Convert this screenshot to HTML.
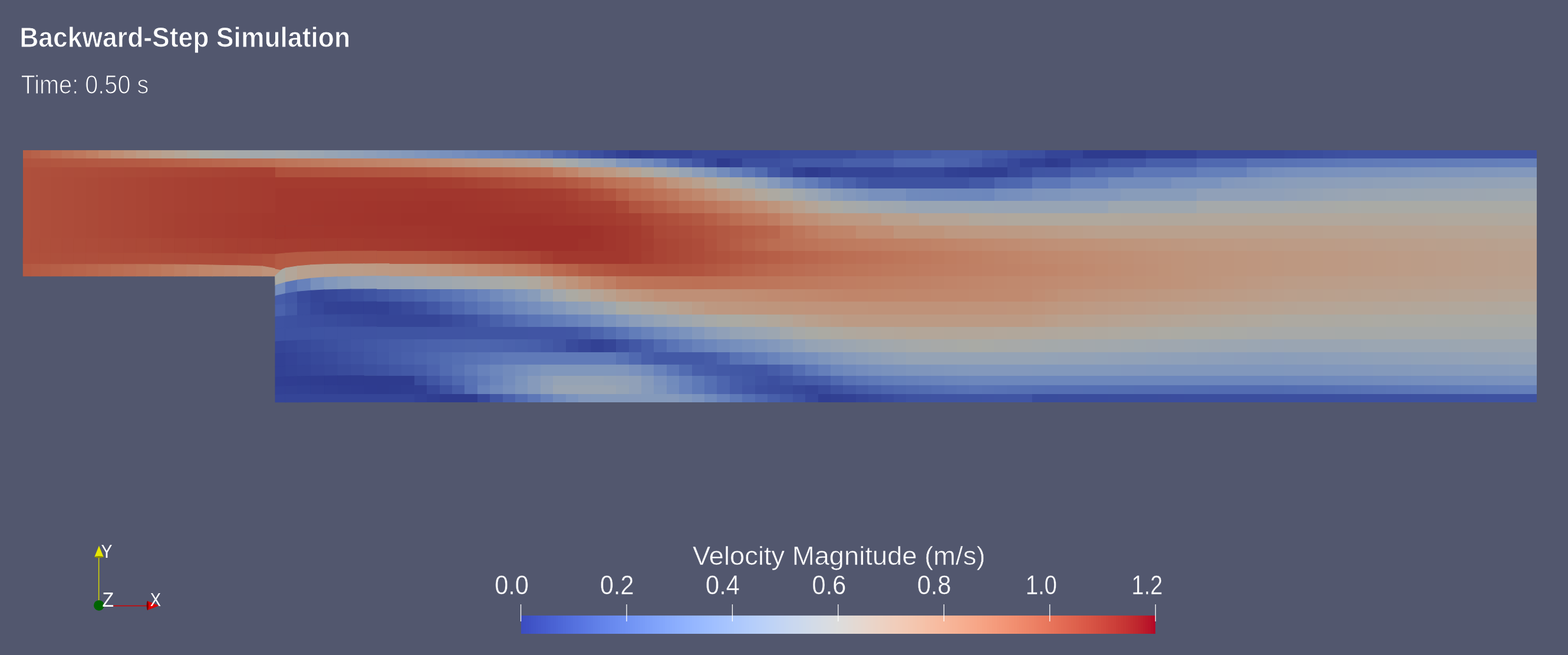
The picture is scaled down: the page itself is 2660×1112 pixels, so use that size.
<!DOCTYPE html>
<html><head><meta charset="utf-8"><title>Backward-Step Simulation</title>
<style>html,body{margin:0;padding:0;background:#52576e;width:2660px;height:1112px;overflow:hidden}
svg{position:absolute;left:0;top:0}</style></head>
<body>
<svg width="2660" height="1112" viewBox="0 0 2660 1112">
<g shape-rendering="crispEdges">
<rect x="39" y="255" width="14" height="14" fill="#b55e46"/><rect x="53" y="255" width="15" height="14" fill="#b7624a"/><rect x="68" y="255" width="18" height="14" fill="#b9674e"/><rect x="86" y="255" width="19" height="14" fill="#bb6d53"/><rect x="105" y="255" width="20" height="14" fill="#bc7358"/><rect x="125" y="255" width="21" height="14" fill="#be785d"/><rect x="146" y="255" width="21" height="14" fill="#bf7f63"/><rect x="167" y="255" width="21" height="14" fill="#c0876b"/><rect x="188" y="255" width="22" height="14" fill="#bf8e74"/><rect x="210" y="255" width="21" height="14" fill="#be947c"/><rect x="231" y="255" width="22" height="14" fill="#bc9a84"/><rect x="253" y="255" width="21" height="14" fill="#ba9f8b"/><rect x="274" y="255" width="22" height="14" fill="#b7a291"/><rect x="296" y="255" width="21" height="14" fill="#b4a597"/><rect x="317" y="255" width="21" height="14" fill="#b0a89d"/><rect x="338" y="255" width="22" height="14" fill="#abaaa3"/><rect x="360" y="255" width="21" height="14" fill="#a9aaa6"/><rect x="381" y="255" width="22" height="14" fill="#a7a9a8"/><rect x="403" y="255" width="21" height="14" fill="#a5a9aa"/><rect x="424" y="255" width="21" height="14" fill="#a2a8ac"/><rect x="445" y="255" width="22" height="14" fill="#a1a8ae"/>
<rect x="39" y="269" width="14" height="15" fill="#b1543f"/><rect x="53" y="269" width="33" height="15" fill="#b15540"/><rect x="86" y="269" width="19" height="15" fill="#b25640"/><rect x="105" y="269" width="41" height="15" fill="#b25741"/><rect x="146" y="269" width="21" height="15" fill="#b35842"/><rect x="167" y="269" width="21" height="15" fill="#b35943"/><rect x="188" y="269" width="22" height="15" fill="#b35a43"/><rect x="210" y="269" width="21" height="15" fill="#b45a44"/><rect x="231" y="269" width="22" height="15" fill="#b45b44"/><rect x="253" y="269" width="21" height="15" fill="#b55d45"/><rect x="274" y="269" width="22" height="15" fill="#b65f47"/><rect x="296" y="269" width="21" height="15" fill="#b66149"/><rect x="317" y="269" width="21" height="15" fill="#b7634a"/><rect x="338" y="269" width="22" height="15" fill="#b8654c"/><rect x="360" y="269" width="21" height="15" fill="#b9674e"/><rect x="381" y="269" width="22" height="15" fill="#b9694f"/><rect x="403" y="269" width="21" height="15" fill="#ba6b51"/><rect x="424" y="269" width="21" height="15" fill="#bb6d53"/><rect x="445" y="269" width="22" height="15" fill="#bb6f54"/>
<rect x="39" y="284" width="14" height="17" fill="#af503c"/><rect x="53" y="284" width="33" height="17" fill="#ae4f3c"/><rect x="86" y="284" width="19" height="17" fill="#ae4e3b"/><rect x="105" y="284" width="20" height="17" fill="#ad4d3b"/><rect x="125" y="284" width="21" height="17" fill="#ad4d3a"/><rect x="146" y="284" width="21" height="17" fill="#ad4c3a"/><rect x="167" y="284" width="21" height="17" fill="#ac4b39"/><rect x="188" y="284" width="22" height="17" fill="#ac4a39"/><rect x="210" y="284" width="21" height="17" fill="#ab4a38"/><rect x="231" y="284" width="22" height="17" fill="#ab4938"/><rect x="253" y="284" width="21" height="17" fill="#ab4837"/><rect x="274" y="284" width="22" height="17" fill="#aa4737"/><rect x="296" y="284" width="21" height="17" fill="#aa4636"/><rect x="317" y="284" width="21" height="17" fill="#a94636"/><rect x="338" y="284" width="22" height="17" fill="#a94535"/><rect x="360" y="284" width="21" height="17" fill="#a84435"/><rect x="381" y="284" width="22" height="17" fill="#a84334"/><rect x="403" y="284" width="21" height="17" fill="#a84234"/><rect x="424" y="284" width="43" height="17" fill="#a74133"/>
<rect x="39" y="301" width="14" height="19" fill="#af503c"/><rect x="53" y="301" width="15" height="19" fill="#ae4f3c"/><rect x="68" y="301" width="18" height="19" fill="#ae4e3b"/><rect x="86" y="301" width="19" height="19" fill="#ad4d3a"/><rect x="105" y="301" width="20" height="19" fill="#ad4c3a"/><rect x="125" y="301" width="21" height="19" fill="#ac4b39"/><rect x="146" y="301" width="21" height="19" fill="#ab4a38"/><rect x="167" y="301" width="21" height="19" fill="#ab4837"/><rect x="188" y="301" width="22" height="19" fill="#aa4737"/><rect x="210" y="301" width="21" height="19" fill="#aa4636"/><rect x="231" y="301" width="22" height="19" fill="#a94535"/><rect x="253" y="301" width="21" height="19" fill="#a84334"/><rect x="274" y="301" width="22" height="19" fill="#a84234"/><rect x="296" y="301" width="21" height="19" fill="#a74133"/><rect x="317" y="301" width="21" height="19" fill="#a64032"/><rect x="338" y="301" width="22" height="19" fill="#a63f32"/><rect x="360" y="301" width="21" height="19" fill="#a63e31"/><rect x="381" y="301" width="22" height="19" fill="#a53e31"/><rect x="403" y="301" width="21" height="19" fill="#a53d30"/><rect x="424" y="301" width="21" height="19" fill="#a43c30"/><rect x="445" y="301" width="22" height="19" fill="#a43b30"/>
<rect x="39" y="320" width="14" height="21" fill="#af503c"/><rect x="53" y="320" width="15" height="21" fill="#ae4f3c"/><rect x="68" y="320" width="18" height="21" fill="#ae4e3b"/><rect x="86" y="320" width="19" height="21" fill="#ad4d3a"/><rect x="105" y="320" width="20" height="21" fill="#ad4c3a"/><rect x="125" y="320" width="21" height="21" fill="#ac4b39"/><rect x="146" y="320" width="21" height="21" fill="#ab4a38"/><rect x="167" y="320" width="21" height="21" fill="#ab4837"/><rect x="188" y="320" width="22" height="21" fill="#aa4737"/><rect x="210" y="320" width="21" height="21" fill="#aa4636"/><rect x="231" y="320" width="22" height="21" fill="#a94535"/><rect x="253" y="320" width="21" height="21" fill="#a84334"/><rect x="274" y="320" width="22" height="21" fill="#a84234"/><rect x="296" y="320" width="21" height="21" fill="#a74133"/><rect x="317" y="320" width="21" height="21" fill="#a64032"/><rect x="338" y="320" width="22" height="21" fill="#a63f32"/><rect x="360" y="320" width="21" height="21" fill="#a63e31"/><rect x="381" y="320" width="22" height="21" fill="#a53e31"/><rect x="403" y="320" width="21" height="21" fill="#a53d30"/><rect x="424" y="320" width="21" height="21" fill="#a43c30"/><rect x="445" y="320" width="22" height="21" fill="#a43b30"/>
<rect x="39" y="341" width="14" height="21" fill="#af503c"/><rect x="53" y="341" width="15" height="21" fill="#ae4f3c"/><rect x="68" y="341" width="18" height="21" fill="#ae4e3b"/><rect x="86" y="341" width="19" height="21" fill="#ad4d3a"/><rect x="105" y="341" width="20" height="21" fill="#ad4c3a"/><rect x="125" y="341" width="21" height="21" fill="#ac4b39"/><rect x="146" y="341" width="21" height="21" fill="#ab4a38"/><rect x="167" y="341" width="21" height="21" fill="#ab4837"/><rect x="188" y="341" width="22" height="21" fill="#aa4737"/><rect x="210" y="341" width="21" height="21" fill="#aa4636"/><rect x="231" y="341" width="22" height="21" fill="#a94535"/><rect x="253" y="341" width="21" height="21" fill="#a84334"/><rect x="274" y="341" width="22" height="21" fill="#a84234"/><rect x="296" y="341" width="21" height="21" fill="#a74133"/><rect x="317" y="341" width="21" height="21" fill="#a64032"/><rect x="338" y="341" width="22" height="21" fill="#a63f32"/><rect x="360" y="341" width="21" height="21" fill="#a63e31"/><rect x="381" y="341" width="22" height="21" fill="#a53e31"/><rect x="403" y="341" width="21" height="21" fill="#a53d30"/><rect x="424" y="341" width="21" height="21" fill="#a43c30"/><rect x="445" y="341" width="22" height="21" fill="#a43b30"/>
<rect x="39" y="362" width="14" height="21" fill="#af503c"/><rect x="53" y="362" width="15" height="21" fill="#ae4f3c"/><rect x="68" y="362" width="18" height="21" fill="#ae4e3b"/><rect x="86" y="362" width="19" height="21" fill="#ad4d3a"/><rect x="105" y="362" width="20" height="21" fill="#ad4c3a"/><rect x="125" y="362" width="21" height="21" fill="#ac4b39"/><rect x="146" y="362" width="21" height="21" fill="#ab4a38"/><rect x="167" y="362" width="21" height="21" fill="#ab4837"/><rect x="188" y="362" width="22" height="21" fill="#aa4737"/><rect x="210" y="362" width="21" height="21" fill="#aa4636"/><rect x="231" y="362" width="22" height="21" fill="#a94535"/><rect x="253" y="362" width="21" height="21" fill="#a84334"/><rect x="274" y="362" width="22" height="21" fill="#a74233"/><rect x="296" y="362" width="21" height="21" fill="#a64032"/><rect x="317" y="362" width="21" height="21" fill="#a63f32"/><rect x="338" y="362" width="22" height="21" fill="#a53e31"/><rect x="360" y="362" width="21" height="21" fill="#a53d31"/><rect x="381" y="362" width="22" height="21" fill="#a43c30"/><rect x="403" y="362" width="21" height="21" fill="#a43b2f"/><rect x="424" y="362" width="21" height="21" fill="#a33a2f"/><rect x="445" y="362" width="22" height="21" fill="#a2392e"/>
<rect x="39" y="383" width="14" height="22" fill="#af503c"/><rect x="53" y="383" width="15" height="22" fill="#ae4f3c"/><rect x="68" y="383" width="18" height="22" fill="#ae4e3b"/><rect x="86" y="383" width="19" height="22" fill="#ad4d3a"/><rect x="105" y="383" width="20" height="22" fill="#ad4c3a"/><rect x="125" y="383" width="21" height="22" fill="#ac4b39"/><rect x="146" y="383" width="21" height="22" fill="#ab4a38"/><rect x="167" y="383" width="21" height="22" fill="#ab4837"/><rect x="188" y="383" width="22" height="22" fill="#aa4737"/><rect x="210" y="383" width="21" height="22" fill="#aa4636"/><rect x="231" y="383" width="22" height="22" fill="#a94535"/><rect x="253" y="383" width="21" height="22" fill="#a84334"/><rect x="274" y="383" width="22" height="22" fill="#a74233"/><rect x="296" y="383" width="21" height="22" fill="#a64032"/><rect x="317" y="383" width="21" height="22" fill="#a63f32"/><rect x="338" y="383" width="22" height="22" fill="#a53e31"/><rect x="360" y="383" width="21" height="22" fill="#a53d31"/><rect x="381" y="383" width="22" height="22" fill="#a43c30"/><rect x="403" y="383" width="21" height="22" fill="#a43b2f"/><rect x="424" y="383" width="21" height="22" fill="#a33a2f"/><rect x="445" y="383" width="22" height="22" fill="#a2392e"/>
<polygon points="39.4,404.6 52.7,404.6 52.7,429.7 39.4,429.7" fill="#af503c" stroke="#af503c" stroke-width="1.2" shape-rendering="auto"/>
<polygon points="52.7,404.6 67.9,404.6 67.9,429.7 52.7,429.7" fill="#ae4f3c" stroke="#ae4f3c" stroke-width="1.2" shape-rendering="auto"/>
<polygon points="67.9,404.6 85.9,404.6 85.9,429.7 67.9,429.7" fill="#ae4f3b" stroke="#ae4f3b" stroke-width="1.2" shape-rendering="auto"/>
<polygon points="85.9,404.6 104.9,404.6 104.9,429.8 85.9,429.7" fill="#ae4e3b" stroke="#ae4e3b" stroke-width="1.2" shape-rendering="auto"/>
<polygon points="104.9,404.6 124.7,404.6 124.7,429.8 104.9,429.8" fill="#ad4d3b" stroke="#ad4d3b" stroke-width="1.2" shape-rendering="auto"/>
<polygon points="124.7,404.6 145.8,404.6 145.8,429.8 124.7,429.8" fill="#ad4d3a" stroke="#ad4d3a" stroke-width="1.2" shape-rendering="auto"/>
<polygon points="145.8,404.6 167.0,404.6 167.0,429.8 145.8,429.8" fill="#ad4c3a" stroke="#ad4c3a" stroke-width="1.2" shape-rendering="auto"/>
<polygon points="167.0,404.6 188.4,404.6 188.4,429.8 167.0,429.8" fill="#ac4b39" stroke="#ac4b39" stroke-width="1.2" shape-rendering="auto"/>
<polygon points="188.4,404.6 210.2,404.6 210.2,429.8 188.4,429.8" fill="#ac4a39" stroke="#ac4a39" stroke-width="1.2" shape-rendering="auto"/>
<polygon points="210.2,404.6 230.9,404.6 230.9,429.8 210.2,429.8" fill="#ab4938" stroke="#ab4938" stroke-width="1.2" shape-rendering="auto"/>
<polygon points="230.9,404.6 253.0,404.6 253.0,429.9 230.9,429.8" fill="#ab4937" stroke="#ab4937" stroke-width="1.2" shape-rendering="auto"/>
<polygon points="253.0,404.6 274.0,404.6 274.0,429.9 253.0,429.9" fill="#aa4837" stroke="#aa4837" stroke-width="1.2" shape-rendering="auto"/>
<polygon points="274.0,404.6 296.1,404.6 296.1,429.9 274.0,429.9" fill="#aa4636" stroke="#aa4636" stroke-width="1.2" shape-rendering="auto"/>
<polygon points="296.1,404.6 317.0,404.6 317.0,430.1 296.1,429.9" fill="#a94535" stroke="#a94535" stroke-width="1.2" shape-rendering="auto"/>
<polygon points="317.0,404.6 338.0,404.6 338.0,430.2 317.0,430.1" fill="#a94435" stroke="#a94435" stroke-width="1.2" shape-rendering="auto"/>
<polygon points="338.0,404.6 360.1,404.6 360.1,430.5 338.0,430.2" fill="#a84334" stroke="#a84334" stroke-width="1.2" shape-rendering="auto"/>
<polygon points="360.1,404.6 381.1,404.6 381.1,430.6 360.1,430.5" fill="#a74233" stroke="#a74233" stroke-width="1.2" shape-rendering="auto"/>
<polygon points="381.1,404.6 403.2,404.6 403.2,430.8 381.1,430.6" fill="#a74032" stroke="#a74032" stroke-width="1.2" shape-rendering="auto"/>
<polygon points="403.2,404.6 424.2,404.6 424.2,431.0 403.2,430.8" fill="#a63f32" stroke="#a63f32" stroke-width="1.2" shape-rendering="auto"/>
<polygon points="424.2,404.6 445.1,404.6 445.1,431.3 424.2,431.0" fill="#a63f32" stroke="#a63f32" stroke-width="1.2" shape-rendering="auto"/>
<polygon points="445.1,404.6 467.1,404.6 467.1,431.5 445.1,431.3" fill="#a53e31" stroke="#a53e31" stroke-width="1.2" shape-rendering="auto"/>
<polygon points="39.4,429.7 52.7,429.7 52.7,448.7 39.4,448.7" fill="#af503c" stroke="#af503c" stroke-width="1.2" shape-rendering="auto"/>
<polygon points="52.7,429.7 67.9,429.7 67.9,448.7 52.7,448.7" fill="#af503c" stroke="#af503c" stroke-width="1.2" shape-rendering="auto"/>
<polygon points="67.9,429.7 85.9,429.7 85.9,448.8 67.9,448.7" fill="#af503c" stroke="#af503c" stroke-width="1.2" shape-rendering="auto"/>
<polygon points="85.9,429.7 104.9,429.8 104.9,448.8 85.9,448.8" fill="#ae503c" stroke="#ae503c" stroke-width="1.2" shape-rendering="auto"/>
<polygon points="104.9,429.8 124.7,429.8 124.7,448.8 104.9,448.8" fill="#ae4f3c" stroke="#ae4f3c" stroke-width="1.2" shape-rendering="auto"/>
<polygon points="124.7,429.8 145.8,429.8 145.8,448.8 124.7,448.8" fill="#ae4f3c" stroke="#ae4f3c" stroke-width="1.2" shape-rendering="auto"/>
<polygon points="145.8,429.8 167.0,429.8 167.0,448.8 145.8,448.8" fill="#ae4f3c" stroke="#ae4f3c" stroke-width="1.2" shape-rendering="auto"/>
<polygon points="167.0,429.8 188.4,429.8 188.4,448.9 167.0,448.8" fill="#ae4f3b" stroke="#ae4f3b" stroke-width="1.2" shape-rendering="auto"/>
<polygon points="188.4,429.8 210.2,429.8 210.2,448.9 188.4,448.9" fill="#ae4e3b" stroke="#ae4e3b" stroke-width="1.2" shape-rendering="auto"/>
<polygon points="210.2,429.8 230.9,429.8 230.9,448.9 210.2,448.9" fill="#ae4e3b" stroke="#ae4e3b" stroke-width="1.2" shape-rendering="auto"/>
<polygon points="230.9,429.8 253.0,429.9 253.0,448.9 230.9,448.9" fill="#ae4e3b" stroke="#ae4e3b" stroke-width="1.2" shape-rendering="auto"/>
<polygon points="253.0,429.9 274.0,429.9 274.0,449.0 253.0,448.9" fill="#ae4e3b" stroke="#ae4e3b" stroke-width="1.2" shape-rendering="auto"/>
<polygon points="274.0,429.9 296.1,429.9 296.1,449.0 274.0,449.0" fill="#ad4e3b" stroke="#ad4e3b" stroke-width="1.2" shape-rendering="auto"/>
<polygon points="296.1,429.9 317.0,430.1 317.0,449.3 296.1,449.0" fill="#ad4d3b" stroke="#ad4d3b" stroke-width="1.2" shape-rendering="auto"/>
<polygon points="317.0,430.1 338.0,430.2 338.0,449.7 317.0,449.3" fill="#ad4d3a" stroke="#ad4d3a" stroke-width="1.2" shape-rendering="auto"/>
<polygon points="338.0,430.2 360.1,430.5 360.1,450.1 338.0,449.7" fill="#ad4d3a" stroke="#ad4d3a" stroke-width="1.2" shape-rendering="auto"/>
<polygon points="360.1,430.5 381.1,430.6 381.1,450.5 360.1,450.1" fill="#ad4d3a" stroke="#ad4d3a" stroke-width="1.2" shape-rendering="auto"/>
<polygon points="381.1,430.6 403.2,430.8 403.2,450.9 381.1,450.5" fill="#ad4c3a" stroke="#ad4c3a" stroke-width="1.2" shape-rendering="auto"/>
<polygon points="403.2,430.8 424.2,431.0 424.2,451.3 403.2,450.9" fill="#ae4e3b" stroke="#ae4e3b" stroke-width="1.2" shape-rendering="auto"/>
<polygon points="424.2,431.0 445.1,431.3 445.1,452.0 424.2,451.3" fill="#af503d" stroke="#af503d" stroke-width="1.2" shape-rendering="auto"/>
<polygon points="445.1,431.3 467.1,431.5 467.1,456.0 445.1,452.0" fill="#b0533e" stroke="#b0533e" stroke-width="1.2" shape-rendering="auto"/>
<polygon points="39.4,448.7 52.7,448.7 52.7,468.6 39.4,468.6" fill="#b35942" stroke="#b35942" stroke-width="1.2" shape-rendering="auto"/>
<polygon points="52.7,448.7 67.9,448.7 67.9,468.6 52.7,468.6" fill="#b45b44" stroke="#b45b44" stroke-width="1.2" shape-rendering="auto"/>
<polygon points="67.9,448.7 85.9,448.8 85.9,468.6 67.9,468.6" fill="#b55d45" stroke="#b55d45" stroke-width="1.2" shape-rendering="auto"/>
<polygon points="85.9,448.8 104.9,448.8 104.9,468.6 85.9,468.6" fill="#b65f47" stroke="#b65f47" stroke-width="1.2" shape-rendering="auto"/>
<polygon points="104.9,448.8 124.7,448.8 124.7,468.6 104.9,468.6" fill="#b76249" stroke="#b76249" stroke-width="1.2" shape-rendering="auto"/>
<polygon points="124.7,448.8 145.8,448.8 145.8,468.6 124.7,468.6" fill="#b8644b" stroke="#b8644b" stroke-width="1.2" shape-rendering="auto"/>
<polygon points="145.8,448.8 167.0,448.8 167.0,468.6 145.8,468.6" fill="#b9674d" stroke="#b9674d" stroke-width="1.2" shape-rendering="auto"/>
<polygon points="167.0,448.8 188.4,448.9 188.4,468.6 167.0,468.6" fill="#ba6a50" stroke="#ba6a50" stroke-width="1.2" shape-rendering="auto"/>
<polygon points="188.4,448.9 210.2,448.9 210.2,468.6 188.4,468.6" fill="#bb6d52" stroke="#bb6d52" stroke-width="1.2" shape-rendering="auto"/>
<polygon points="210.2,448.9 230.9,448.9 230.9,468.6 210.2,468.6" fill="#bc6f55" stroke="#bc6f55" stroke-width="1.2" shape-rendering="auto"/>
<polygon points="230.9,448.9 253.0,448.9 253.0,468.6 230.9,468.6" fill="#bc7257" stroke="#bc7257" stroke-width="1.2" shape-rendering="auto"/>
<polygon points="253.0,448.9 274.0,449.0 274.0,468.6 253.0,468.6" fill="#bd765a" stroke="#bd765a" stroke-width="1.2" shape-rendering="auto"/>
<polygon points="274.0,449.0 296.1,449.0 296.1,468.6 274.0,468.6" fill="#be7a5e" stroke="#be7a5e" stroke-width="1.2" shape-rendering="auto"/>
<polygon points="296.1,449.0 317.0,449.3 317.0,468.6 296.1,468.6" fill="#bf7e62" stroke="#bf7e62" stroke-width="1.2" shape-rendering="auto"/>
<polygon points="317.0,449.3 338.0,449.7 338.0,468.6 317.0,468.6" fill="#bf8166" stroke="#bf8166" stroke-width="1.2" shape-rendering="auto"/>
<polygon points="338.0,449.7 360.1,450.1 360.1,468.6 338.0,468.6" fill="#c08569" stroke="#c08569" stroke-width="1.2" shape-rendering="auto"/>
<polygon points="360.1,450.1 381.1,450.5 381.1,468.6 360.1,468.6" fill="#c0876c" stroke="#c0876c" stroke-width="1.2" shape-rendering="auto"/>
<polygon points="381.1,450.5 403.2,450.9 403.2,468.6 381.1,468.6" fill="#c0896f" stroke="#c0896f" stroke-width="1.2" shape-rendering="auto"/>
<polygon points="403.2,450.9 424.2,451.3 424.2,468.6 403.2,468.6" fill="#c08c71" stroke="#c08c71" stroke-width="1.2" shape-rendering="auto"/>
<polygon points="424.2,451.3 445.1,452.0 445.1,468.6 424.2,468.6" fill="#bf8e74" stroke="#bf8e74" stroke-width="1.2" shape-rendering="auto"/>
<polygon points="445.1,452.0 478.0,457.9 466.8,468.6 445.1,468.6" fill="#bf937a" stroke="#bf937a" stroke-width="1.2" shape-rendering="auto"/>
<rect x="467" y="255" width="17" height="14" fill="#a3a8ac"/><rect x="484" y="255" width="21" height="14" fill="#a1a8ae"/><rect x="505" y="255" width="22" height="14" fill="#9ea7b0"/><rect x="527" y="255" width="23" height="14" fill="#9ba6b2"/><rect x="550" y="255" width="23" height="14" fill="#97a4b4"/><rect x="573" y="255" width="22" height="14" fill="#94a3b6"/><rect x="595" y="255" width="22" height="14" fill="#91a1b7"/><rect x="617" y="255" width="22" height="14" fill="#8e9fb9"/><rect x="639" y="255" width="21" height="14" fill="#8a9dba"/><rect x="660" y="255" width="21" height="14" fill="#879bbb"/><rect x="681" y="255" width="22" height="14" fill="#8499bb"/><rect x="703" y="255" width="21" height="14" fill="#8096bc"/><rect x="724" y="255" width="22" height="14" fill="#7d94bc"/><rect x="746" y="255" width="21" height="14" fill="#7991bd"/><rect x="767" y="255" width="21" height="14" fill="#768ebd"/><rect x="788" y="255" width="22" height="14" fill="#728bbc"/><rect x="810" y="255" width="21" height="14" fill="#6e88bc"/><rect x="831" y="255" width="22" height="14" fill="#6b85bb"/><rect x="853" y="255" width="21" height="14" fill="#6781ba"/><rect x="874" y="255" width="21" height="14" fill="#637eb9"/><rect x="895" y="255" width="22" height="14" fill="#607ab8"/><rect x="917" y="255" width="21" height="14" fill="#5871b4"/><rect x="938" y="255" width="22" height="14" fill="#4d65ae"/><rect x="960" y="255" width="21" height="14" fill="#485faa"/><rect x="981" y="255" width="21" height="14" fill="#4155a4"/><rect x="1002" y="255" width="22" height="14" fill="#3c4f9f"/><rect x="1024" y="255" width="21" height="14" fill="#374899"/><rect x="1045" y="255" width="22" height="14" fill="#324194"/><rect x="1067" y="255" width="21" height="14" fill="#2e3b8e"/><rect x="1088" y="255" width="21" height="14" fill="#303e91"/><rect x="1109" y="255" width="65" height="14" fill="#324194"/><rect x="1174" y="255" width="149" height="14" fill="#374899"/><rect x="1323" y="255" width="129" height="14" fill="#394c9c"/><rect x="1452" y="255" width="64" height="14" fill="#3e52a1"/><rect x="1516" y="255" width="64" height="14" fill="#4359a6"/><rect x="1580" y="255" width="86" height="14" fill="#485faa"/><rect x="1666" y="255" width="43" height="14" fill="#4359a6"/><rect x="1709" y="255" width="21" height="14" fill="#3e52a1"/><rect x="1730" y="255" width="21" height="14" fill="#3d51a0"/><rect x="1751" y="255" width="22" height="14" fill="#3c4f9f"/><rect x="1773" y="255" width="64" height="14" fill="#354597"/><rect x="1837" y="255" width="107" height="14" fill="#2e3b8e"/><rect x="1944" y="255" width="86" height="14" fill="#324194"/><rect x="2030" y="255" width="149" height="14" fill="#374899"/><rect x="2179" y="255" width="22" height="14" fill="#384a9b"/><rect x="2201" y="255" width="21" height="14" fill="#394b9c"/><rect x="2222" y="255" width="22" height="14" fill="#3a4d9d"/><rect x="2244" y="255" width="21" height="14" fill="#3c4f9f"/><rect x="2265" y="255" width="21" height="14" fill="#3d50a0"/><rect x="2286" y="255" width="321" height="14" fill="#3e52a1"/>
<rect x="467" y="269" width="17" height="15" fill="#bd7358"/><rect x="484" y="269" width="21" height="15" fill="#bd755a"/><rect x="505" y="269" width="22" height="15" fill="#be775c"/><rect x="527" y="269" width="23" height="15" fill="#be7a5e"/><rect x="550" y="269" width="23" height="15" fill="#bf7c60"/><rect x="573" y="269" width="22" height="15" fill="#bf7e63"/><rect x="595" y="269" width="22" height="15" fill="#bf8065"/><rect x="617" y="269" width="22" height="15" fill="#bf8267"/><rect x="639" y="269" width="21" height="15" fill="#c08469"/><rect x="660" y="269" width="21" height="15" fill="#c0866b"/><rect x="681" y="269" width="22" height="15" fill="#c0886d"/><rect x="703" y="269" width="21" height="15" fill="#c08a70"/><rect x="724" y="269" width="22" height="15" fill="#c08d73"/><rect x="746" y="269" width="21" height="15" fill="#bf9077"/><rect x="767" y="269" width="21" height="15" fill="#bf937b"/><rect x="788" y="269" width="22" height="15" fill="#be967e"/><rect x="810" y="269" width="21" height="15" fill="#bd9882"/><rect x="831" y="269" width="22" height="15" fill="#bc9b85"/><rect x="853" y="269" width="21" height="15" fill="#bb9d89"/><rect x="874" y="269" width="21" height="15" fill="#b99f8c"/><rect x="895" y="269" width="22" height="15" fill="#b8a190"/><rect x="917" y="269" width="21" height="15" fill="#b3a699"/><rect x="938" y="269" width="22" height="15" fill="#abaaa3"/><rect x="960" y="269" width="21" height="15" fill="#a5a9aa"/><rect x="981" y="269" width="21" height="15" fill="#9ca6b1"/><rect x="1002" y="269" width="22" height="15" fill="#95a3b5"/><rect x="1024" y="269" width="21" height="15" fill="#90a0b8"/><rect x="1045" y="269" width="22" height="15" fill="#8096bc"/><rect x="1067" y="269" width="21" height="15" fill="#7b92bd"/><rect x="1088" y="269" width="21" height="15" fill="#738cbc"/><rect x="1109" y="269" width="22" height="15" fill="#6882bb"/><rect x="1131" y="269" width="21" height="15" fill="#5872b4"/><rect x="1152" y="269" width="22" height="15" fill="#4b62ac"/><rect x="1174" y="269" width="21" height="15" fill="#4155a4"/><rect x="1195" y="269" width="21" height="15" fill="#374899"/><rect x="1216" y="269" width="22" height="15" fill="#2e3b8e"/><rect x="1238" y="269" width="21" height="15" fill="#324194"/><rect x="1259" y="269" width="64" height="15" fill="#3c4f9f"/><rect x="1323" y="269" width="22" height="15" fill="#3e52a1"/><rect x="1345" y="269" width="85" height="15" fill="#4359a6"/><rect x="1430" y="269" width="86" height="15" fill="#485faa"/><rect x="1516" y="269" width="21" height="15" fill="#5068b0"/><rect x="1537" y="269" width="65" height="15" fill="#5069b0"/><rect x="1602" y="269" width="42" height="15" fill="#4b62ac"/><rect x="1644" y="269" width="22" height="15" fill="#465ca8"/><rect x="1666" y="269" width="21" height="15" fill="#3e52a1"/><rect x="1687" y="269" width="22" height="15" fill="#3c4f9f"/><rect x="1709" y="269" width="21" height="15" fill="#37489a"/><rect x="1730" y="269" width="43" height="15" fill="#324194"/><rect x="1773" y="269" width="21" height="15" fill="#2e3b8e"/><rect x="1794" y="269" width="22" height="15" fill="#303e91"/><rect x="1816" y="269" width="21" height="15" fill="#394b9c"/><rect x="1837" y="269" width="43" height="15" fill="#394c9c"/><rect x="1880" y="269" width="21" height="15" fill="#4055a3"/><rect x="1901" y="269" width="43" height="15" fill="#4155a4"/><rect x="1944" y="269" width="86" height="15" fill="#485faa"/><rect x="2030" y="269" width="21" height="15" fill="#5068b0"/><rect x="2051" y="269" width="64" height="15" fill="#5069b0"/><rect x="2115" y="269" width="22" height="15" fill="#5871b4"/><rect x="2137" y="269" width="42" height="15" fill="#5872b4"/><rect x="2179" y="269" width="22" height="15" fill="#5973b5"/><rect x="2201" y="269" width="21" height="15" fill="#5a74b6"/><rect x="2222" y="269" width="22" height="15" fill="#5c76b6"/><rect x="2244" y="269" width="21" height="15" fill="#5d77b7"/><rect x="2265" y="269" width="21" height="15" fill="#5e79b7"/><rect x="2286" y="269" width="43" height="15" fill="#607ab8"/><rect x="2329" y="269" width="43" height="15" fill="#617bb8"/><rect x="2372" y="269" width="21" height="15" fill="#617cb9"/><rect x="2393" y="269" width="43" height="15" fill="#627cb9"/><rect x="2436" y="269" width="22" height="15" fill="#627db9"/><rect x="2458" y="269" width="21" height="15" fill="#637db9"/><rect x="2479" y="269" width="21" height="15" fill="#637eb9"/><rect x="2500" y="269" width="42" height="15" fill="#647eb9"/><rect x="2542" y="269" width="18" height="15" fill="#647fba"/><rect x="2560" y="269" width="35" height="15" fill="#657fba"/><rect x="2595" y="269" width="12" height="15" fill="#6580ba"/>
<rect x="467" y="284" width="17" height="17" fill="#af503c"/><rect x="484" y="284" width="43" height="17" fill="#af513d"/><rect x="527" y="284" width="23" height="17" fill="#b0523e"/><rect x="550" y="284" width="23" height="17" fill="#b0533e"/><rect x="573" y="284" width="22" height="17" fill="#b0543f"/><rect x="595" y="284" width="22" height="17" fill="#b1543f"/><rect x="617" y="284" width="22" height="17" fill="#b15540"/><rect x="639" y="284" width="21" height="17" fill="#b15640"/><rect x="660" y="284" width="21" height="17" fill="#b25641"/><rect x="681" y="284" width="22" height="17" fill="#b25741"/><rect x="703" y="284" width="21" height="17" fill="#b25842"/><rect x="724" y="284" width="22" height="17" fill="#b45b44"/><rect x="746" y="284" width="21" height="17" fill="#b55d46"/><rect x="767" y="284" width="21" height="17" fill="#b66048"/><rect x="788" y="284" width="22" height="17" fill="#b7634a"/><rect x="810" y="284" width="21" height="17" fill="#b8664c"/><rect x="831" y="284" width="22" height="17" fill="#b9684f"/><rect x="853" y="284" width="21" height="17" fill="#ba6b51"/><rect x="874" y="284" width="21" height="17" fill="#bb6e53"/><rect x="895" y="284" width="22" height="17" fill="#bc7055"/><rect x="917" y="284" width="21" height="17" fill="#bd7358"/><rect x="938" y="284" width="22" height="17" fill="#bf7f64"/><rect x="960" y="284" width="21" height="17" fill="#c0856a"/><rect x="981" y="284" width="21" height="17" fill="#bf8f76"/><rect x="1002" y="284" width="22" height="17" fill="#be947c"/><rect x="1024" y="284" width="21" height="17" fill="#bd9881"/><rect x="1045" y="284" width="22" height="17" fill="#ba9e8a"/><rect x="1067" y="284" width="21" height="17" fill="#b6a393"/><rect x="1088" y="284" width="21" height="17" fill="#afa89e"/><rect x="1109" y="284" width="22" height="17" fill="#a7a9a8"/><rect x="1131" y="284" width="21" height="17" fill="#a1a8ae"/><rect x="1152" y="284" width="22" height="17" fill="#97a4b4"/><rect x="1174" y="284" width="21" height="17" fill="#8b9dba"/><rect x="1195" y="284" width="21" height="17" fill="#8097bc"/><rect x="1216" y="284" width="22" height="17" fill="#738cbc"/><rect x="1238" y="284" width="21" height="17" fill="#6882bb"/><rect x="1259" y="284" width="22" height="17" fill="#5d77b7"/><rect x="1281" y="284" width="21" height="17" fill="#526cb1"/><rect x="1302" y="284" width="21" height="17" fill="#4359a6"/><rect x="1323" y="284" width="22" height="17" fill="#3c4f9f"/><rect x="1345" y="284" width="21" height="17" fill="#324194"/><rect x="1366" y="284" width="22" height="17" fill="#2e3b8e"/><rect x="1388" y="284" width="21" height="17" fill="#303e91"/><rect x="1409" y="284" width="107" height="17" fill="#354597"/><rect x="1516" y="284" width="86" height="17" fill="#374899"/><rect x="1602" y="284" width="21" height="17" fill="#324194"/><rect x="1623" y="284" width="21" height="17" fill="#314093"/><rect x="1644" y="284" width="65" height="17" fill="#303e91"/><rect x="1709" y="284" width="21" height="17" fill="#374899"/><rect x="1730" y="284" width="21" height="17" fill="#394b9c"/><rect x="1751" y="284" width="22" height="17" fill="#4055a3"/><rect x="1773" y="284" width="43" height="17" fill="#4155a4"/><rect x="1816" y="284" width="21" height="17" fill="#4a62ac"/><rect x="1837" y="284" width="21" height="17" fill="#4b62ac"/><rect x="1858" y="284" width="22" height="17" fill="#526bb1"/><rect x="1880" y="284" width="43" height="17" fill="#526cb1"/><rect x="1923" y="284" width="107" height="17" fill="#5d77b7"/><rect x="2030" y="284" width="21" height="17" fill="#657fba"/><rect x="2051" y="284" width="64" height="17" fill="#6580ba"/><rect x="2115" y="284" width="22" height="17" fill="#7089bc"/><rect x="2137" y="284" width="21" height="17" fill="#738cbc"/><rect x="2158" y="284" width="21" height="17" fill="#768ebd"/><rect x="2179" y="284" width="22" height="17" fill="#7890bd"/><rect x="2201" y="284" width="43" height="17" fill="#7991bd"/><rect x="2244" y="284" width="21" height="17" fill="#7a92bd"/><rect x="2265" y="284" width="21" height="17" fill="#7b92bd"/><rect x="2286" y="284" width="22" height="17" fill="#7b93bd"/><rect x="2308" y="284" width="43" height="17" fill="#7c93bc"/><rect x="2351" y="284" width="42" height="17" fill="#7d94bc"/><rect x="2393" y="284" width="22" height="17" fill="#7e95bc"/><rect x="2415" y="284" width="21" height="17" fill="#7f95bc"/><rect x="2436" y="284" width="22" height="17" fill="#7f96bc"/><rect x="2458" y="284" width="42" height="17" fill="#8096bc"/><rect x="2500" y="284" width="42" height="17" fill="#8197bc"/><rect x="2542" y="284" width="36" height="17" fill="#8298bc"/><rect x="2578" y="284" width="29" height="17" fill="#8398bc"/>
<rect x="467" y="301" width="257" height="19" fill="#a43b2f"/><rect x="724" y="301" width="22" height="19" fill="#a53d30"/><rect x="746" y="301" width="21" height="19" fill="#a63e31"/><rect x="767" y="301" width="21" height="19" fill="#a64032"/><rect x="788" y="301" width="22" height="19" fill="#a84334"/><rect x="810" y="301" width="21" height="19" fill="#a94636"/><rect x="831" y="301" width="22" height="19" fill="#ab4837"/><rect x="853" y="301" width="21" height="19" fill="#ac4b39"/><rect x="874" y="301" width="21" height="19" fill="#ae4e3b"/><rect x="895" y="301" width="22" height="19" fill="#af503c"/><rect x="917" y="301" width="21" height="19" fill="#b0523e"/><rect x="938" y="301" width="22" height="19" fill="#b1543f"/><rect x="960" y="301" width="21" height="19" fill="#b35a43"/><rect x="981" y="301" width="21" height="19" fill="#b65f47"/><rect x="1002" y="301" width="22" height="19" fill="#b9684e"/><rect x="1024" y="301" width="21" height="19" fill="#bc7055"/><rect x="1045" y="301" width="22" height="19" fill="#bd7559"/><rect x="1067" y="301" width="21" height="19" fill="#be795e"/><rect x="1088" y="301" width="21" height="19" fill="#bf7f64"/><rect x="1109" y="301" width="22" height="19" fill="#c08a70"/><rect x="1131" y="301" width="21" height="19" fill="#be947c"/><rect x="1152" y="301" width="22" height="19" fill="#bc9a84"/><rect x="1174" y="301" width="21" height="19" fill="#b9a08d"/><rect x="1195" y="301" width="21" height="19" fill="#b3a698"/><rect x="1216" y="301" width="22" height="19" fill="#abaaa3"/><rect x="1238" y="301" width="21" height="19" fill="#a7a9a8"/><rect x="1259" y="301" width="22" height="19" fill="#9ea7af"/><rect x="1281" y="301" width="21" height="19" fill="#93a2b7"/><rect x="1302" y="301" width="21" height="19" fill="#869abb"/><rect x="1323" y="301" width="22" height="19" fill="#7890bd"/><rect x="1345" y="301" width="21" height="19" fill="#6b85bb"/><rect x="1366" y="301" width="22" height="19" fill="#637db9"/><rect x="1388" y="301" width="21" height="19" fill="#5872b4"/><rect x="1409" y="301" width="21" height="19" fill="#5069b0"/><rect x="1430" y="301" width="22" height="19" fill="#4b62ac"/><rect x="1452" y="301" width="21" height="19" fill="#4359a6"/><rect x="1473" y="301" width="171" height="19" fill="#3e52a1"/><rect x="1644" y="301" width="43" height="19" fill="#4359a6"/><rect x="1687" y="301" width="22" height="19" fill="#4d65ae"/><rect x="1709" y="301" width="21" height="19" fill="#4e67af"/><rect x="1730" y="301" width="21" height="19" fill="#5069b0"/><rect x="1751" y="301" width="65" height="19" fill="#5d77b7"/><rect x="1816" y="301" width="64" height="19" fill="#6882bb"/><rect x="1880" y="301" width="107" height="19" fill="#738cbc"/><rect x="1987" y="301" width="21" height="19" fill="#7b92bd"/><rect x="2008" y="301" width="64" height="19" fill="#7b93bd"/><rect x="2072" y="301" width="22" height="19" fill="#8398bc"/><rect x="2094" y="301" width="21" height="19" fill="#8599bb"/><rect x="2115" y="301" width="22" height="19" fill="#869abb"/><rect x="2137" y="301" width="21" height="19" fill="#889cbb"/><rect x="2158" y="301" width="21" height="19" fill="#899dba"/><rect x="2179" y="301" width="22" height="19" fill="#8b9dba"/><rect x="2201" y="301" width="21" height="19" fill="#8b9eb9"/><rect x="2222" y="301" width="22" height="19" fill="#8c9eb9"/><rect x="2244" y="301" width="21" height="19" fill="#8d9eb9"/><rect x="2265" y="301" width="21" height="19" fill="#8d9fb9"/><rect x="2286" y="301" width="22" height="19" fill="#8e9fb9"/><rect x="2308" y="301" width="21" height="19" fill="#8e9fb8"/><rect x="2329" y="301" width="43" height="19" fill="#8fa0b8"/><rect x="2372" y="301" width="21" height="19" fill="#90a0b8"/><rect x="2393" y="301" width="22" height="19" fill="#90a1b8"/><rect x="2415" y="301" width="43" height="19" fill="#91a1b7"/><rect x="2458" y="301" width="21" height="19" fill="#92a1b7"/><rect x="2479" y="301" width="21" height="19" fill="#92a2b7"/><rect x="2500" y="301" width="42" height="19" fill="#93a2b6"/><rect x="2542" y="301" width="18" height="19" fill="#94a2b6"/><rect x="2560" y="301" width="18" height="19" fill="#94a3b6"/><rect x="2578" y="301" width="29" height="19" fill="#95a3b5"/>
<rect x="467" y="320" width="106" height="21" fill="#a2382e"/><rect x="573" y="320" width="22" height="21" fill="#a2372e"/><rect x="595" y="320" width="44" height="21" fill="#a2372d"/><rect x="639" y="320" width="64" height="21" fill="#a1372d"/><rect x="703" y="320" width="107" height="21" fill="#a1362d"/><rect x="810" y="320" width="21" height="21" fill="#a1372d"/><rect x="831" y="320" width="22" height="21" fill="#a2382e"/><rect x="853" y="320" width="21" height="21" fill="#a3392e"/><rect x="874" y="320" width="21" height="21" fill="#a33a2f"/><rect x="895" y="320" width="22" height="21" fill="#a43b2f"/><rect x="917" y="320" width="21" height="21" fill="#a43c30"/><rect x="938" y="320" width="22" height="21" fill="#a53e31"/><rect x="960" y="320" width="21" height="21" fill="#a84234"/><rect x="981" y="320" width="21" height="21" fill="#ab4837"/><rect x="1002" y="320" width="22" height="21" fill="#ae4e3b"/><rect x="1024" y="320" width="21" height="21" fill="#b1543f"/><rect x="1045" y="320" width="22" height="21" fill="#b65f47"/><rect x="1067" y="320" width="21" height="21" fill="#ba694f"/><rect x="1088" y="320" width="21" height="21" fill="#bb6d52"/><rect x="1109" y="320" width="22" height="21" fill="#bd7358"/><rect x="1131" y="320" width="21" height="21" fill="#be795e"/><rect x="1152" y="320" width="22" height="21" fill="#bf8267"/><rect x="1174" y="320" width="21" height="21" fill="#c0886d"/><rect x="1195" y="320" width="21" height="21" fill="#bf8f76"/><rect x="1216" y="320" width="22" height="21" fill="#be967e"/><rect x="1238" y="320" width="21" height="21" fill="#bb9c87"/><rect x="1259" y="320" width="22" height="21" fill="#b8a190"/><rect x="1281" y="320" width="21" height="21" fill="#b1a79b"/><rect x="1302" y="320" width="21" height="21" fill="#ada9a1"/><rect x="1323" y="320" width="22" height="21" fill="#a9aaa5"/><rect x="1345" y="320" width="21" height="21" fill="#a1a8ae"/><rect x="1366" y="320" width="22" height="21" fill="#9aa5b3"/><rect x="1388" y="320" width="21" height="21" fill="#93a2b7"/><rect x="1409" y="320" width="21" height="21" fill="#889cba"/><rect x="1430" y="320" width="22" height="21" fill="#8398bc"/><rect x="1452" y="320" width="21" height="21" fill="#7e95bc"/><rect x="1473" y="320" width="64" height="21" fill="#7890bd"/><rect x="1537" y="320" width="22" height="21" fill="#708abc"/><rect x="1559" y="320" width="21" height="21" fill="#7089bc"/><rect x="1580" y="320" width="22" height="21" fill="#6f89bc"/><rect x="1602" y="320" width="21" height="21" fill="#6f88bc"/><rect x="1623" y="320" width="43" height="21" fill="#6e88bc"/><rect x="1666" y="320" width="21" height="21" fill="#6d87bc"/><rect x="1687" y="320" width="22" height="21" fill="#758ebd"/><rect x="1709" y="320" width="21" height="21" fill="#778fbd"/><rect x="1730" y="320" width="21" height="21" fill="#7890bd"/><rect x="1751" y="320" width="22" height="21" fill="#7e94bc"/><rect x="1773" y="320" width="43" height="21" fill="#7e95bc"/><rect x="1816" y="320" width="85" height="21" fill="#8398bc"/><rect x="1901" y="320" width="129" height="21" fill="#889cba"/><rect x="2030" y="320" width="149" height="21" fill="#90a0b8"/><rect x="2179" y="320" width="22" height="21" fill="#92a1b7"/><rect x="2201" y="320" width="21" height="21" fill="#93a2b6"/><rect x="2222" y="320" width="22" height="21" fill="#95a3b5"/><rect x="2244" y="320" width="21" height="21" fill="#97a4b4"/><rect x="2265" y="320" width="21" height="21" fill="#98a4b4"/><rect x="2286" y="320" width="22" height="21" fill="#9aa5b3"/><rect x="2308" y="320" width="43" height="21" fill="#9aa5b2"/><rect x="2351" y="320" width="42" height="21" fill="#9ba6b2"/><rect x="2393" y="320" width="22" height="21" fill="#9ba6b1"/><rect x="2415" y="320" width="64" height="21" fill="#9ca6b1"/><rect x="2479" y="320" width="21" height="21" fill="#9da6b1"/><rect x="2500" y="320" width="21" height="21" fill="#9da6b0"/><rect x="2521" y="320" width="21" height="21" fill="#9da7b0"/><rect x="2542" y="320" width="36" height="21" fill="#9ea7b0"/><rect x="2578" y="320" width="29" height="21" fill="#9ea7af"/>
<rect x="467" y="341" width="60" height="21" fill="#a2382e"/><rect x="527" y="341" width="23" height="21" fill="#a2372d"/><rect x="550" y="341" width="23" height="21" fill="#a1372d"/><rect x="573" y="341" width="44" height="21" fill="#a1362d"/><rect x="617" y="341" width="22" height="21" fill="#a1352c"/><rect x="639" y="341" width="42" height="21" fill="#a0352c"/><rect x="681" y="341" width="43" height="21" fill="#a0342c"/><rect x="724" y="341" width="43" height="21" fill="#9f332b"/><rect x="767" y="341" width="21" height="21" fill="#a0342c"/><rect x="788" y="341" width="22" height="21" fill="#a0352c"/><rect x="810" y="341" width="21" height="21" fill="#a1352c"/><rect x="831" y="341" width="22" height="21" fill="#a1362d"/><rect x="853" y="341" width="21" height="21" fill="#a1372d"/><rect x="874" y="341" width="86" height="21" fill="#a2382e"/><rect x="960" y="341" width="21" height="21" fill="#a43b2f"/><rect x="981" y="341" width="21" height="21" fill="#a53e31"/><rect x="1002" y="341" width="22" height="21" fill="#a63f32"/><rect x="1024" y="341" width="21" height="21" fill="#a64032"/><rect x="1045" y="341" width="22" height="21" fill="#ab4837"/><rect x="1067" y="341" width="21" height="21" fill="#b1543f"/><rect x="1088" y="341" width="21" height="21" fill="#b25842"/><rect x="1109" y="341" width="22" height="21" fill="#b65f47"/><rect x="1131" y="341" width="21" height="21" fill="#b8664d"/><rect x="1152" y="341" width="22" height="21" fill="#bb6d52"/><rect x="1174" y="341" width="21" height="21" fill="#bc7055"/><rect x="1195" y="341" width="21" height="21" fill="#bd765b"/><rect x="1216" y="341" width="22" height="21" fill="#bf7c61"/><rect x="1238" y="341" width="21" height="21" fill="#bf8267"/><rect x="1259" y="341" width="22" height="21" fill="#c0886d"/><rect x="1281" y="341" width="21" height="21" fill="#c08d73"/><rect x="1302" y="341" width="21" height="21" fill="#be947b"/><rect x="1323" y="341" width="22" height="21" fill="#bc9a84"/><rect x="1345" y="341" width="21" height="21" fill="#b9a08d"/><rect x="1366" y="341" width="22" height="21" fill="#b5a496"/><rect x="1388" y="341" width="21" height="21" fill="#afa89e"/><rect x="1409" y="341" width="21" height="21" fill="#abaaa3"/><rect x="1430" y="341" width="22" height="21" fill="#a7a9a8"/><rect x="1452" y="341" width="21" height="21" fill="#a5a9aa"/><rect x="1473" y="341" width="22" height="21" fill="#a1a8ae"/><rect x="1495" y="341" width="21" height="21" fill="#a0a7ae"/><rect x="1516" y="341" width="21" height="21" fill="#9ea7af"/><rect x="1537" y="341" width="22" height="21" fill="#9aa5b3"/><rect x="1559" y="341" width="85" height="21" fill="#99a5b3"/><rect x="1644" y="341" width="22" height="21" fill="#98a5b3"/><rect x="1666" y="341" width="21" height="21" fill="#98a5b4"/><rect x="1687" y="341" width="43" height="21" fill="#98a4b4"/><rect x="1730" y="341" width="150" height="21" fill="#97a4b4"/><rect x="1880" y="341" width="150" height="21" fill="#9ea7af"/><rect x="2030" y="341" width="149" height="21" fill="#a5a9aa"/><rect x="2179" y="341" width="22" height="21" fill="#a6a9a9"/><rect x="2201" y="341" width="21" height="21" fill="#a6a9a8"/><rect x="2222" y="341" width="22" height="21" fill="#a7a9a8"/><rect x="2244" y="341" width="21" height="21" fill="#a8a9a7"/><rect x="2265" y="341" width="21" height="21" fill="#a8aaa6"/><rect x="2286" y="341" width="22" height="21" fill="#a9aaa6"/><rect x="2308" y="341" width="299" height="21" fill="#a9aaa5"/>
<rect x="467" y="362" width="38" height="21" fill="#a2382e"/><rect x="505" y="362" width="22" height="21" fill="#a2372e"/><rect x="527" y="362" width="23" height="21" fill="#a1372d"/><rect x="550" y="362" width="45" height="21" fill="#a1362d"/><rect x="595" y="362" width="22" height="21" fill="#a1352c"/><rect x="617" y="362" width="22" height="21" fill="#a0352c"/><rect x="639" y="362" width="42" height="21" fill="#a0342c"/><rect x="681" y="362" width="236" height="21" fill="#9f332b"/><rect x="917" y="362" width="21" height="21" fill="#a0342c"/><rect x="938" y="362" width="22" height="21" fill="#a1362d"/><rect x="960" y="362" width="21" height="21" fill="#a1372d"/><rect x="981" y="362" width="21" height="21" fill="#a2382e"/><rect x="1002" y="362" width="22" height="21" fill="#a33a2f"/><rect x="1024" y="362" width="21" height="21" fill="#a43b2f"/><rect x="1045" y="362" width="22" height="21" fill="#a53e31"/><rect x="1067" y="362" width="21" height="21" fill="#a64032"/><rect x="1088" y="362" width="21" height="21" fill="#ab4837"/><rect x="1109" y="362" width="22" height="21" fill="#ad4c3a"/><rect x="1131" y="362" width="21" height="21" fill="#af503c"/><rect x="1152" y="362" width="22" height="21" fill="#b1543f"/><rect x="1174" y="362" width="21" height="21" fill="#b25842"/><rect x="1195" y="362" width="21" height="21" fill="#b65f47"/><rect x="1216" y="362" width="22" height="21" fill="#b8664d"/><rect x="1238" y="362" width="21" height="21" fill="#bb6d52"/><rect x="1259" y="362" width="22" height="21" fill="#bd7358"/><rect x="1281" y="362" width="21" height="21" fill="#bd765b"/><rect x="1302" y="362" width="21" height="21" fill="#bf7c61"/><rect x="1323" y="362" width="22" height="21" fill="#c0856a"/><rect x="1345" y="362" width="21" height="21" fill="#c08d73"/><rect x="1366" y="362" width="22" height="21" fill="#bf8f76"/><rect x="1388" y="362" width="21" height="21" fill="#be947b"/><rect x="1409" y="362" width="21" height="21" fill="#bd9881"/><rect x="1430" y="362" width="22" height="21" fill="#bd9982"/><rect x="1452" y="362" width="21" height="21" fill="#bd9983"/><rect x="1473" y="362" width="22" height="21" fill="#bc9a84"/><rect x="1495" y="362" width="64" height="21" fill="#b9a08d"/><rect x="1559" y="362" width="85" height="21" fill="#b5a496"/><rect x="1644" y="362" width="22" height="21" fill="#b1a79b"/><rect x="1666" y="362" width="21" height="21" fill="#b1a79c"/><rect x="1687" y="362" width="22" height="21" fill="#b0a79d"/><rect x="1709" y="362" width="21" height="21" fill="#b0a89d"/><rect x="1730" y="362" width="86" height="21" fill="#afa89e"/><rect x="1816" y="362" width="85" height="21" fill="#b0a89d"/><rect x="1901" y="362" width="64" height="21" fill="#b0a79d"/><rect x="1965" y="362" width="65" height="21" fill="#b0a79c"/><rect x="2030" y="362" width="85" height="21" fill="#b1a79c"/><rect x="2115" y="362" width="107" height="21" fill="#b1a79b"/><rect x="2222" y="362" width="86" height="21" fill="#b1a79c"/><rect x="2308" y="362" width="64" height="21" fill="#b0a79c"/><rect x="2372" y="362" width="64" height="21" fill="#b0a79d"/><rect x="2436" y="362" width="106" height="21" fill="#b0a89d"/><rect x="2542" y="362" width="65" height="21" fill="#afa89e"/>
<polygon points="467.1,383.2 484.5,383.2 484.5,405.9 467.1,406.6" fill="#a2382e" stroke="#a2382e" stroke-width="1.2" shape-rendering="auto"/>
<polygon points="484.5,383.2 504.6,383.2 504.6,405.4 484.5,405.9" fill="#a2382e" stroke="#a2382e" stroke-width="1.2" shape-rendering="auto"/>
<polygon points="504.6,383.2 527.3,383.2 527.3,405.0 504.6,405.4" fill="#a2382e" stroke="#a2382e" stroke-width="1.2" shape-rendering="auto"/>
<polygon points="527.3,383.2 550.1,383.2 550.1,404.9 527.3,405.0" fill="#a2382e" stroke="#a2382e" stroke-width="1.2" shape-rendering="auto"/>
<rect x="550" y="383" width="45" height="22" fill="#a2372d"/><rect x="595" y="383" width="44" height="22" fill="#a1372d"/><rect x="639" y="383" width="85" height="22" fill="#a1362d"/><rect x="724" y="383" width="22" height="22" fill="#a0352c"/><rect x="746" y="383" width="21" height="22" fill="#a0342c"/><rect x="767" y="383" width="43" height="22" fill="#9f332b"/><rect x="810" y="383" width="21" height="22" fill="#9f322b"/><rect x="831" y="383" width="22" height="22" fill="#9e312a"/><rect x="853" y="383" width="149" height="22" fill="#9e302a"/><rect x="1002" y="383" width="22" height="22" fill="#9f332b"/><rect x="1024" y="383" width="21" height="22" fill="#a1362d"/><rect x="1045" y="383" width="22" height="22" fill="#a2382e"/><rect x="1067" y="383" width="21" height="22" fill="#a43b2f"/><rect x="1088" y="383" width="21" height="22" fill="#a64032"/><rect x="1109" y="383" width="22" height="22" fill="#ab4837"/><rect x="1131" y="383" width="21" height="22" fill="#ac4a39"/><rect x="1152" y="383" width="22" height="22" fill="#ad4c3a"/><rect x="1174" y="383" width="21" height="22" fill="#af503c"/><rect x="1195" y="383" width="21" height="22" fill="#b1543f"/><rect x="1216" y="383" width="22" height="22" fill="#b25842"/><rect x="1238" y="383" width="21" height="22" fill="#b45b44"/><rect x="1259" y="383" width="22" height="22" fill="#b65f47"/><rect x="1281" y="383" width="21" height="22" fill="#b7634a"/><rect x="1302" y="383" width="21" height="22" fill="#b8664d"/><rect x="1323" y="383" width="22" height="22" fill="#bc7055"/><rect x="1345" y="383" width="21" height="22" fill="#bd765b"/><rect x="1366" y="383" width="22" height="22" fill="#bf7c61"/><rect x="1388" y="383" width="21" height="22" fill="#bf8267"/><rect x="1409" y="383" width="21" height="22" fill="#c08468"/><rect x="1430" y="383" width="22" height="22" fill="#c0856a"/><rect x="1452" y="383" width="21" height="22" fill="#c08d72"/><rect x="1473" y="383" width="43" height="22" fill="#c08d73"/><rect x="1516" y="383" width="86" height="22" fill="#be947b"/><rect x="1602" y="383" width="21" height="22" fill="#bd9881"/><rect x="1623" y="383" width="21" height="22" fill="#bd9882"/><rect x="1644" y="383" width="22" height="22" fill="#bd9982"/><rect x="1666" y="383" width="43" height="22" fill="#bd9983"/><rect x="1709" y="383" width="42" height="22" fill="#bc9a84"/><rect x="1751" y="383" width="22" height="22" fill="#bc9b86"/><rect x="1773" y="383" width="21" height="22" fill="#bb9c87"/><rect x="1794" y="383" width="22" height="22" fill="#bb9d89"/><rect x="1816" y="383" width="21" height="22" fill="#ba9e8a"/><rect x="1837" y="383" width="21" height="22" fill="#ba9f8c"/><rect x="1858" y="383" width="321" height="22" fill="#b9a08d"/><rect x="2179" y="383" width="43" height="22" fill="#b9a08e"/><rect x="2222" y="383" width="22" height="22" fill="#b8a08e"/><rect x="2244" y="383" width="42" height="22" fill="#b8a18f"/><rect x="2286" y="383" width="43" height="22" fill="#b8a190"/><rect x="2329" y="383" width="64" height="22" fill="#b7a291"/><rect x="2393" y="383" width="43" height="22" fill="#b7a292"/><rect x="2436" y="383" width="43" height="22" fill="#b6a393"/><rect x="2479" y="383" width="42" height="22" fill="#b6a394"/><rect x="2521" y="383" width="21" height="22" fill="#b5a494"/><rect x="2542" y="383" width="53" height="22" fill="#b5a495"/><rect x="2595" y="383" width="12" height="22" fill="#b5a496"/>
<polygon points="467.1,406.6 484.5,405.9 484.5,429.8 467.1,431.5" fill="#a53e31" stroke="#a53e31" stroke-width="1.2" shape-rendering="auto"/>
<polygon points="484.5,405.9 504.6,405.4 504.6,428.4 484.5,429.8" fill="#a53d31" stroke="#a53d31" stroke-width="1.2" shape-rendering="auto"/>
<polygon points="504.6,405.4 527.3,405.0 527.3,427.5 504.6,428.4" fill="#a53d30" stroke="#a53d30" stroke-width="1.2" shape-rendering="auto"/>
<polygon points="527.3,405.0 550.1,404.9 550.1,427.0 527.3,427.5" fill="#a43c30" stroke="#a43c30" stroke-width="1.2" shape-rendering="auto"/>
<polygon points="550.1,404.9 572.8,404.7 572.8,426.6 550.1,427.0" fill="#a43c30" stroke="#a43c30" stroke-width="1.2" shape-rendering="auto"/>
<polygon points="572.8,404.7 595.1,404.7 595.1,426.4 572.8,426.6" fill="#a43b30" stroke="#a43b30" stroke-width="1.2" shape-rendering="auto"/>
<polygon points="595.1,404.7 617.3,404.6 617.3,426.3 595.1,426.4" fill="#a43b2f" stroke="#a43b2f" stroke-width="1.2" shape-rendering="auto"/>
<rect x="617" y="405" width="43" height="21" fill="#a33a2f"/><rect x="660" y="405" width="21" height="21" fill="#a3392f"/><rect x="681" y="405" width="22" height="21" fill="#a2392e"/><rect x="703" y="405" width="21" height="21" fill="#a2382e"/><rect x="724" y="405" width="22" height="21" fill="#a2372e"/><rect x="746" y="405" width="21" height="21" fill="#a1372d"/><rect x="767" y="405" width="21" height="21" fill="#a1362d"/><rect x="788" y="405" width="22" height="21" fill="#a0352c"/><rect x="810" y="405" width="21" height="21" fill="#a0342c"/><rect x="831" y="405" width="22" height="21" fill="#9f332b"/><rect x="853" y="405" width="21" height="21" fill="#9f322b"/><rect x="874" y="405" width="21" height="21" fill="#9e312a"/><rect x="895" y="405" width="86" height="21" fill="#9e302a"/><rect x="981" y="405" width="43" height="21" fill="#9f332b"/><rect x="1024" y="405" width="21" height="21" fill="#a1362d"/><rect x="1045" y="405" width="22" height="21" fill="#a2382e"/><rect x="1067" y="405" width="21" height="21" fill="#a43b2f"/><rect x="1088" y="405" width="21" height="21" fill="#a53e31"/><rect x="1109" y="405" width="22" height="21" fill="#a94435"/><rect x="1131" y="405" width="21" height="21" fill="#aa4736"/><rect x="1152" y="405" width="22" height="21" fill="#ab4a38"/><rect x="1174" y="405" width="21" height="21" fill="#ad4c3a"/><rect x="1195" y="405" width="21" height="21" fill="#b0523e"/><rect x="1216" y="405" width="22" height="21" fill="#b25842"/><rect x="1238" y="405" width="21" height="21" fill="#b55d46"/><rect x="1259" y="405" width="22" height="21" fill="#b7634a"/><rect x="1281" y="405" width="21" height="21" fill="#b9684e"/><rect x="1302" y="405" width="21" height="21" fill="#bb6d52"/><rect x="1323" y="405" width="22" height="21" fill="#bb6f55"/><rect x="1345" y="405" width="21" height="21" fill="#bc7257"/><rect x="1366" y="405" width="22" height="21" fill="#bd7459"/><rect x="1388" y="405" width="21" height="21" fill="#be775b"/><rect x="1409" y="405" width="21" height="21" fill="#be795e"/><rect x="1430" y="405" width="22" height="21" fill="#be7b5f"/><rect x="1452" y="405" width="21" height="21" fill="#bf7c60"/><rect x="1473" y="405" width="22" height="21" fill="#bf7d62"/><rect x="1495" y="405" width="21" height="21" fill="#bf7f63"/><rect x="1516" y="405" width="21" height="21" fill="#bf8064"/><rect x="1537" y="405" width="22" height="21" fill="#bf8165"/><rect x="1559" y="405" width="21" height="21" fill="#bf8267"/><rect x="1580" y="405" width="22" height="21" fill="#c08468"/><rect x="1602" y="405" width="21" height="21" fill="#c0856a"/><rect x="1623" y="405" width="21" height="21" fill="#c0876c"/><rect x="1644" y="405" width="22" height="21" fill="#c0886d"/><rect x="1666" y="405" width="21" height="21" fill="#c08a6f"/><rect x="1687" y="405" width="22" height="21" fill="#c08b71"/><rect x="1709" y="405" width="21" height="21" fill="#c08c72"/><rect x="1730" y="405" width="21" height="21" fill="#bf8e74"/><rect x="1751" y="405" width="22" height="21" fill="#bf8f76"/><rect x="1773" y="405" width="21" height="21" fill="#bf9077"/><rect x="1794" y="405" width="22" height="21" fill="#bf9178"/><rect x="1816" y="405" width="21" height="21" fill="#bf9278"/><rect x="1837" y="405" width="21" height="21" fill="#bf9279"/><rect x="1858" y="405" width="22" height="21" fill="#bf937a"/><rect x="1880" y="405" width="21" height="21" fill="#be947b"/><rect x="1901" y="405" width="22" height="21" fill="#be957c"/><rect x="1923" y="405" width="21" height="21" fill="#be957d"/><rect x="1944" y="405" width="21" height="21" fill="#be967e"/><rect x="1965" y="405" width="22" height="21" fill="#be977f"/><rect x="1987" y="405" width="21" height="21" fill="#bd9780"/><rect x="2008" y="405" width="22" height="21" fill="#bd9881"/><rect x="2030" y="405" width="42" height="21" fill="#bd9982"/><rect x="2072" y="405" width="22" height="21" fill="#bd9983"/><rect x="2094" y="405" width="21" height="21" fill="#bd9a84"/><rect x="2115" y="405" width="22" height="21" fill="#bc9a84"/><rect x="2137" y="405" width="21" height="21" fill="#bc9a85"/><rect x="2158" y="405" width="21" height="21" fill="#bc9b85"/><rect x="2179" y="405" width="43" height="21" fill="#bc9b86"/><rect x="2222" y="405" width="43" height="21" fill="#bb9c87"/><rect x="2265" y="405" width="21" height="21" fill="#bb9c88"/><rect x="2286" y="405" width="22" height="21" fill="#bb9d88"/><rect x="2308" y="405" width="21" height="21" fill="#bb9d89"/><rect x="2329" y="405" width="22" height="21" fill="#ba9d8a"/><rect x="2351" y="405" width="21" height="21" fill="#ba9e8a"/><rect x="2372" y="405" width="43" height="21" fill="#ba9e8b"/><rect x="2415" y="405" width="21" height="21" fill="#ba9f8c"/><rect x="2436" y="405" width="22" height="21" fill="#b99f8c"/><rect x="2458" y="405" width="21" height="21" fill="#b99f8d"/><rect x="2479" y="405" width="21" height="21" fill="#b9a08d"/><rect x="2500" y="405" width="21" height="21" fill="#b9a08e"/><rect x="2521" y="405" width="21" height="21" fill="#b8a08e"/><rect x="2542" y="405" width="36" height="21" fill="#b8a18f"/><rect x="2578" y="405" width="29" height="21" fill="#b8a190"/>
<polygon points="467.1,431.5 484.5,429.8 484.5,455.1 478.0,457.9 467.1,456.0" fill="#b45b44" stroke="#b45b44" stroke-width="1.2" shape-rendering="auto"/>
<polygon points="484.5,429.8 504.6,428.4 504.6,451.9 484.5,455.1" fill="#b45b44" stroke="#b45b44" stroke-width="1.2" shape-rendering="auto"/>
<polygon points="504.6,428.4 527.3,427.5 527.3,449.9 504.6,451.9" fill="#b45b44" stroke="#b45b44" stroke-width="1.2" shape-rendering="auto"/>
<polygon points="527.3,427.5 550.1,427.0 550.1,448.9 527.3,449.9" fill="#b45a44" stroke="#b45a44" stroke-width="1.2" shape-rendering="auto"/>
<polygon points="550.1,427.0 572.8,426.6 572.8,448.4 550.1,448.9" fill="#b35a43" stroke="#b35a43" stroke-width="1.2" shape-rendering="auto"/>
<polygon points="572.8,426.6 595.1,426.4 595.1,448.1 572.8,448.4" fill="#b35a43" stroke="#b35a43" stroke-width="1.2" shape-rendering="auto"/>
<polygon points="595.1,426.4 617.3,426.3 617.3,448.0 595.1,448.1" fill="#b35943" stroke="#b35943" stroke-width="1.2" shape-rendering="auto"/>
<polygon points="617.3,426.3 638.7,426.2 638.7,447.9 617.3,448.0" fill="#b35943" stroke="#b35943" stroke-width="1.2" shape-rendering="auto"/>
<rect x="639" y="426" width="21" height="22" fill="#b35942"/><rect x="660" y="426" width="43" height="22" fill="#b35842"/><rect x="703" y="426" width="21" height="22" fill="#b25842"/><rect x="724" y="426" width="22" height="22" fill="#b15640"/><rect x="746" y="426" width="21" height="22" fill="#b0543f"/><rect x="767" y="426" width="21" height="22" fill="#af513d"/><rect x="788" y="426" width="22" height="22" fill="#ae4f3c"/><rect x="810" y="426" width="21" height="22" fill="#ad4d3a"/><rect x="831" y="426" width="22" height="22" fill="#ac4b39"/><rect x="853" y="426" width="21" height="22" fill="#ab4938"/><rect x="874" y="426" width="21" height="22" fill="#aa4736"/><rect x="895" y="426" width="22" height="22" fill="#a94435"/><rect x="917" y="426" width="21" height="22" fill="#a53e31"/><rect x="938" y="426" width="129" height="22" fill="#a2382e"/><rect x="1067" y="426" width="21" height="22" fill="#a43b2f"/><rect x="1088" y="426" width="21" height="22" fill="#a64032"/><rect x="1109" y="426" width="22" height="22" fill="#a94435"/><rect x="1131" y="426" width="21" height="22" fill="#aa4736"/><rect x="1152" y="426" width="22" height="22" fill="#ab4a38"/><rect x="1174" y="426" width="21" height="22" fill="#ad4c3a"/><rect x="1195" y="426" width="21" height="22" fill="#ae503c"/><rect x="1216" y="426" width="22" height="22" fill="#b0533e"/><rect x="1238" y="426" width="21" height="22" fill="#b25640"/><rect x="1259" y="426" width="22" height="22" fill="#b35943"/><rect x="1281" y="426" width="21" height="22" fill="#b45c45"/><rect x="1302" y="426" width="21" height="22" fill="#b65f47"/><rect x="1323" y="426" width="22" height="22" fill="#b76249"/><rect x="1345" y="426" width="21" height="22" fill="#b8654c"/><rect x="1366" y="426" width="22" height="22" fill="#b9674e"/><rect x="1388" y="426" width="21" height="22" fill="#ba6a50"/><rect x="1409" y="426" width="21" height="22" fill="#bb6d52"/><rect x="1430" y="426" width="22" height="22" fill="#bb6f54"/><rect x="1452" y="426" width="21" height="22" fill="#bc7056"/><rect x="1473" y="426" width="22" height="22" fill="#bc7257"/><rect x="1495" y="426" width="21" height="22" fill="#bd7459"/><rect x="1516" y="426" width="21" height="22" fill="#bd765a"/><rect x="1537" y="426" width="22" height="22" fill="#be785c"/><rect x="1559" y="426" width="21" height="22" fill="#be795e"/><rect x="1580" y="426" width="22" height="22" fill="#be7b5f"/><rect x="1602" y="426" width="21" height="22" fill="#bf7d61"/><rect x="1623" y="426" width="21" height="22" fill="#bf7e63"/><rect x="1644" y="426" width="22" height="22" fill="#bf8064"/><rect x="1666" y="426" width="21" height="22" fill="#bf8266"/><rect x="1687" y="426" width="22" height="22" fill="#bf8368"/><rect x="1709" y="426" width="21" height="22" fill="#c08569"/><rect x="1730" y="426" width="21" height="22" fill="#c0866b"/><rect x="1751" y="426" width="22" height="22" fill="#c0886d"/><rect x="1773" y="426" width="21" height="22" fill="#c0896e"/><rect x="1794" y="426" width="22" height="22" fill="#c08a6f"/><rect x="1816" y="426" width="21" height="22" fill="#c08b70"/><rect x="1837" y="426" width="21" height="22" fill="#c08c72"/><rect x="1858" y="426" width="22" height="22" fill="#c08d73"/><rect x="1880" y="426" width="21" height="22" fill="#bf8e74"/><rect x="1901" y="426" width="22" height="22" fill="#bf8f75"/><rect x="1923" y="426" width="21" height="22" fill="#bf9077"/><rect x="1944" y="426" width="21" height="22" fill="#bf9178"/><rect x="1965" y="426" width="22" height="22" fill="#bf9279"/><rect x="1987" y="426" width="21" height="22" fill="#bf937a"/><rect x="2008" y="426" width="22" height="22" fill="#be947b"/><rect x="2030" y="426" width="21" height="22" fill="#be947c"/><rect x="2051" y="426" width="43" height="22" fill="#be957d"/><rect x="2094" y="426" width="21" height="22" fill="#be967e"/><rect x="2115" y="426" width="22" height="22" fill="#be967f"/><rect x="2137" y="426" width="21" height="22" fill="#be977f"/><rect x="2158" y="426" width="21" height="22" fill="#bd9780"/><rect x="2179" y="426" width="43" height="22" fill="#bd9881"/><rect x="2222" y="426" width="22" height="22" fill="#bd9982"/><rect x="2244" y="426" width="42" height="22" fill="#bd9983"/><rect x="2286" y="426" width="22" height="22" fill="#bc9a84"/><rect x="2308" y="426" width="21" height="22" fill="#bc9a85"/><rect x="2329" y="426" width="22" height="22" fill="#bc9b85"/><rect x="2351" y="426" width="21" height="22" fill="#bc9b86"/><rect x="2372" y="426" width="21" height="22" fill="#bc9c87"/><rect x="2393" y="426" width="22" height="22" fill="#bb9c87"/><rect x="2415" y="426" width="21" height="22" fill="#bb9c88"/><rect x="2436" y="426" width="43" height="22" fill="#bb9d89"/><rect x="2479" y="426" width="21" height="22" fill="#ba9e8a"/><rect x="2500" y="426" width="42" height="22" fill="#ba9e8b"/><rect x="2542" y="426" width="18" height="22" fill="#ba9f8c"/><rect x="2560" y="426" width="18" height="22" fill="#b99f8c"/><rect x="2578" y="426" width="17" height="22" fill="#b99f8d"/><rect x="2595" y="426" width="12" height="22" fill="#b9a08d"/>
<polygon points="478.0,457.9 484.5,455.1 484.5,479.4 467.1,484.6 466.8,468.6" fill="#abaaa3" stroke="#abaaa3" stroke-width="1.2" shape-rendering="auto"/>
<polygon points="484.5,455.1 504.6,451.9 504.6,475.4 484.5,479.4" fill="#b3a699" stroke="#b3a699" stroke-width="1.2" shape-rendering="auto"/>
<polygon points="504.6,451.9 527.3,449.9 527.3,472.7 504.6,475.4" fill="#b8a18f" stroke="#b8a18f" stroke-width="1.2" shape-rendering="auto"/>
<polygon points="527.3,449.9 550.1,448.9 550.1,471.0 527.3,472.7" fill="#ba9f8c" stroke="#ba9f8c" stroke-width="1.2" shape-rendering="auto"/>
<polygon points="550.1,448.9 572.8,448.4 572.8,470.0 550.1,471.0" fill="#ba9e8a" stroke="#ba9e8a" stroke-width="1.2" shape-rendering="auto"/>
<polygon points="572.8,448.4 595.1,448.1 595.1,469.5 572.8,470.0" fill="#bb9d88" stroke="#bb9d88" stroke-width="1.2" shape-rendering="auto"/>
<polygon points="595.1,448.1 617.3,448.0 617.3,469.1 595.1,469.5" fill="#bc9c87" stroke="#bc9c87" stroke-width="1.2" shape-rendering="auto"/>
<polygon points="617.3,448.0 638.7,447.9 638.7,468.9 617.3,469.1" fill="#bc9b85" stroke="#bc9b85" stroke-width="1.2" shape-rendering="auto"/>
<polygon points="638.7,447.9 660.1,447.8 660.1,468.8 638.7,468.9" fill="#bd9983" stroke="#bd9983" stroke-width="1.2" shape-rendering="auto"/>
<rect x="660" y="448" width="21" height="21" fill="#bd9882"/><rect x="681" y="448" width="22" height="21" fill="#bd9780"/><rect x="703" y="448" width="21" height="21" fill="#be967e"/><rect x="724" y="448" width="22" height="21" fill="#bf937b"/><rect x="746" y="448" width="21" height="21" fill="#bf9177"/><rect x="767" y="448" width="21" height="21" fill="#c08e74"/><rect x="788" y="448" width="22" height="21" fill="#c08b70"/><rect x="810" y="448" width="21" height="21" fill="#c0876c"/><rect x="831" y="448" width="22" height="21" fill="#c08469"/><rect x="853" y="448" width="21" height="21" fill="#bf8165"/><rect x="874" y="448" width="21" height="21" fill="#bf7d61"/><rect x="895" y="448" width="22" height="21" fill="#be795e"/><rect x="917" y="448" width="21" height="21" fill="#bc7055"/><rect x="938" y="448" width="22" height="21" fill="#ba694f"/><rect x="960" y="448" width="21" height="21" fill="#b7634a"/><rect x="981" y="448" width="21" height="21" fill="#b45b44"/><rect x="1002" y="448" width="22" height="21" fill="#b25842"/><rect x="1024" y="448" width="21" height="21" fill="#b1543f"/><rect x="1045" y="448" width="22" height="21" fill="#b0523e"/><rect x="1067" y="448" width="64" height="21" fill="#af503c"/><rect x="1131" y="448" width="21" height="21" fill="#af513d"/><rect x="1152" y="448" width="22" height="21" fill="#b0533e"/><rect x="1174" y="448" width="21" height="21" fill="#b1543f"/><rect x="1195" y="448" width="21" height="21" fill="#b25842"/><rect x="1216" y="448" width="22" height="21" fill="#b45b44"/><rect x="1238" y="448" width="21" height="21" fill="#b65f47"/><rect x="1259" y="448" width="22" height="21" fill="#b7634a"/><rect x="1281" y="448" width="21" height="21" fill="#b8664d"/><rect x="1302" y="448" width="21" height="21" fill="#ba694f"/><rect x="1323" y="448" width="22" height="21" fill="#ba6b51"/><rect x="1345" y="448" width="21" height="21" fill="#bb6d53"/><rect x="1366" y="448" width="22" height="21" fill="#bb6f55"/><rect x="1388" y="448" width="21" height="21" fill="#bc7156"/><rect x="1409" y="448" width="21" height="21" fill="#bd7358"/><rect x="1430" y="448" width="22" height="21" fill="#bd7559"/><rect x="1452" y="448" width="21" height="21" fill="#bd765a"/><rect x="1473" y="448" width="22" height="21" fill="#be775c"/><rect x="1495" y="448" width="21" height="21" fill="#be795d"/><rect x="1516" y="448" width="21" height="21" fill="#be7a5e"/><rect x="1537" y="448" width="22" height="21" fill="#be7b5f"/><rect x="1559" y="448" width="21" height="21" fill="#bf7c61"/><rect x="1580" y="448" width="22" height="21" fill="#bf7d62"/><rect x="1602" y="448" width="21" height="21" fill="#bf7e63"/><rect x="1623" y="448" width="21" height="21" fill="#bf7f64"/><rect x="1644" y="448" width="22" height="21" fill="#bf8065"/><rect x="1666" y="448" width="21" height="21" fill="#bf8166"/><rect x="1687" y="448" width="22" height="21" fill="#bf8267"/><rect x="1709" y="448" width="21" height="21" fill="#bf8368"/><rect x="1730" y="448" width="21" height="21" fill="#c08469"/><rect x="1751" y="448" width="22" height="21" fill="#c0856a"/><rect x="1773" y="448" width="21" height="21" fill="#c0866b"/><rect x="1794" y="448" width="22" height="21" fill="#c0886d"/><rect x="1816" y="448" width="21" height="21" fill="#c0896e"/><rect x="1837" y="448" width="21" height="21" fill="#c08a70"/><rect x="1858" y="448" width="22" height="21" fill="#c08c71"/><rect x="1880" y="448" width="21" height="21" fill="#c08d73"/><rect x="1901" y="448" width="22" height="21" fill="#bf8e74"/><rect x="1923" y="448" width="21" height="21" fill="#bf8f76"/><rect x="1944" y="448" width="21" height="21" fill="#bf9077"/><rect x="1965" y="448" width="22" height="21" fill="#bf9278"/><rect x="1987" y="448" width="21" height="21" fill="#bf937a"/><rect x="2008" y="448" width="22" height="21" fill="#be947b"/><rect x="2030" y="448" width="21" height="21" fill="#be947c"/><rect x="2051" y="448" width="43" height="21" fill="#be957d"/><rect x="2094" y="448" width="21" height="21" fill="#be967e"/><rect x="2115" y="448" width="22" height="21" fill="#be967f"/><rect x="2137" y="448" width="21" height="21" fill="#be977f"/><rect x="2158" y="448" width="21" height="21" fill="#bd9780"/><rect x="2179" y="448" width="43" height="21" fill="#bd9881"/><rect x="2222" y="448" width="22" height="21" fill="#bd9982"/><rect x="2244" y="448" width="42" height="21" fill="#bd9983"/><rect x="2286" y="448" width="22" height="21" fill="#bc9a84"/><rect x="2308" y="448" width="21" height="21" fill="#bc9a85"/><rect x="2329" y="448" width="22" height="21" fill="#bc9b85"/><rect x="2351" y="448" width="21" height="21" fill="#bc9b86"/><rect x="2372" y="448" width="21" height="21" fill="#bc9c87"/><rect x="2393" y="448" width="22" height="21" fill="#bb9c87"/><rect x="2415" y="448" width="21" height="21" fill="#bb9c88"/><rect x="2436" y="448" width="43" height="21" fill="#bb9d89"/><rect x="2479" y="448" width="21" height="21" fill="#ba9e8a"/><rect x="2500" y="448" width="42" height="21" fill="#ba9e8b"/><rect x="2542" y="448" width="18" height="21" fill="#ba9f8c"/><rect x="2560" y="448" width="18" height="21" fill="#b99f8c"/><rect x="2578" y="448" width="17" height="21" fill="#b99f8d"/><rect x="2595" y="448" width="12" height="21" fill="#b9a08d"/>
<polygon points="467.1,484.6 484.5,479.4 484.5,498.5 467.1,502.7" fill="#768ebd" stroke="#768ebd" stroke-width="1.2" shape-rendering="auto"/>
<polygon points="484.5,479.4 504.6,475.4 504.6,495.4 484.5,498.5" fill="#5c76b6" stroke="#5c76b6" stroke-width="1.2" shape-rendering="auto"/>
<polygon points="504.6,475.4 527.3,472.7 527.3,493.4 504.6,495.4" fill="#6882bb" stroke="#6882bb" stroke-width="1.2" shape-rendering="auto"/>
<polygon points="527.3,472.7 550.1,471.0 550.1,492.2 527.3,493.4" fill="#7991bd" stroke="#7991bd" stroke-width="1.2" shape-rendering="auto"/>
<polygon points="550.1,471.0 572.8,470.0 572.8,491.6 550.1,492.2" fill="#8298bc" stroke="#8298bc" stroke-width="1.2" shape-rendering="auto"/>
<polygon points="572.8,470.0 595.1,469.5 595.1,491.2 572.8,491.6" fill="#889cba" stroke="#889cba" stroke-width="1.2" shape-rendering="auto"/>
<polygon points="595.1,469.5 617.3,469.1 617.3,491.0 595.1,491.2" fill="#90a0b8" stroke="#90a0b8" stroke-width="1.2" shape-rendering="auto"/>
<polygon points="617.3,469.1 638.7,468.9 638.7,490.9 617.3,491.0" fill="#92a1b7" stroke="#92a1b7" stroke-width="1.2" shape-rendering="auto"/>
<polygon points="638.7,468.9 660.1,468.8 660.1,490.8 638.7,490.9" fill="#94a2b6" stroke="#94a2b6" stroke-width="1.2" shape-rendering="auto"/>
<rect x="660" y="469" width="21" height="22" fill="#96a3b5"/><rect x="681" y="469" width="22" height="22" fill="#97a4b4"/><rect x="703" y="469" width="21" height="22" fill="#9aa5b3"/><rect x="724" y="469" width="22" height="22" fill="#9ca6b1"/><rect x="746" y="469" width="21" height="22" fill="#9ea7af"/><rect x="767" y="469" width="21" height="22" fill="#a1a8ae"/><rect x="788" y="469" width="22" height="22" fill="#a3a8ac"/><rect x="810" y="469" width="21" height="22" fill="#a5a9aa"/><rect x="831" y="469" width="22" height="22" fill="#a7a9a8"/><rect x="853" y="469" width="21" height="22" fill="#a9aaa5"/><rect x="874" y="469" width="21" height="22" fill="#abaaa3"/><rect x="895" y="469" width="22" height="22" fill="#afa89e"/><rect x="917" y="469" width="21" height="22" fill="#b6a393"/><rect x="938" y="469" width="22" height="22" fill="#bc9a84"/><rect x="960" y="469" width="21" height="22" fill="#be947b"/><rect x="981" y="469" width="21" height="22" fill="#c08d72"/><rect x="1002" y="469" width="22" height="22" fill="#c0856a"/><rect x="1024" y="469" width="21" height="22" fill="#bf7f64"/><rect x="1045" y="469" width="22" height="22" fill="#bd765b"/><rect x="1067" y="469" width="21" height="22" fill="#bd7559"/><rect x="1088" y="469" width="21" height="22" fill="#bd7358"/><rect x="1109" y="469" width="43" height="22" fill="#bc7257"/><rect x="1152" y="469" width="22" height="22" fill="#bc7156"/><rect x="1174" y="469" width="21" height="22" fill="#bc7055"/><rect x="1195" y="469" width="21" height="22" fill="#bc7156"/><rect x="1216" y="469" width="22" height="22" fill="#bc7257"/><rect x="1238" y="469" width="21" height="22" fill="#bd7358"/><rect x="1259" y="469" width="22" height="22" fill="#bd7459"/><rect x="1281" y="469" width="21" height="22" fill="#bd755a"/><rect x="1302" y="469" width="21" height="22" fill="#bd765b"/><rect x="1323" y="469" width="22" height="22" fill="#be785c"/><rect x="1345" y="469" width="21" height="22" fill="#be795d"/><rect x="1366" y="469" width="22" height="22" fill="#be7a5e"/><rect x="1388" y="469" width="21" height="22" fill="#be7b60"/><rect x="1409" y="469" width="21" height="22" fill="#bf7c61"/><rect x="1430" y="469" width="22" height="22" fill="#bf7d62"/><rect x="1452" y="469" width="21" height="22" fill="#bf7e62"/><rect x="1473" y="469" width="22" height="22" fill="#bf7f63"/><rect x="1495" y="469" width="21" height="22" fill="#bf8064"/><rect x="1516" y="469" width="21" height="22" fill="#bf8165"/><rect x="1537" y="469" width="22" height="22" fill="#bf8166"/><rect x="1559" y="469" width="21" height="22" fill="#bf8267"/><rect x="1580" y="469" width="22" height="22" fill="#bf8368"/><rect x="1602" y="469" width="21" height="22" fill="#c08469"/><rect x="1623" y="469" width="21" height="22" fill="#c0856a"/><rect x="1644" y="469" width="22" height="22" fill="#c0866b"/><rect x="1666" y="469" width="21" height="22" fill="#c0876c"/><rect x="1687" y="469" width="22" height="22" fill="#c0886d"/><rect x="1709" y="469" width="21" height="22" fill="#c0896e"/><rect x="1730" y="469" width="21" height="22" fill="#c0896f"/><rect x="1751" y="469" width="22" height="22" fill="#c08a70"/><rect x="1773" y="469" width="21" height="22" fill="#c08b71"/><rect x="1794" y="469" width="22" height="22" fill="#c08c72"/><rect x="1816" y="469" width="21" height="22" fill="#c08d73"/><rect x="1837" y="469" width="21" height="22" fill="#c08e74"/><rect x="1858" y="469" width="22" height="22" fill="#bf8e75"/><rect x="1880" y="469" width="21" height="22" fill="#bf8f76"/><rect x="1901" y="469" width="22" height="22" fill="#bf9077"/><rect x="1923" y="469" width="21" height="22" fill="#bf9177"/><rect x="1944" y="469" width="21" height="22" fill="#bf9278"/><rect x="1965" y="469" width="22" height="22" fill="#bf9279"/><rect x="1987" y="469" width="21" height="22" fill="#bf937a"/><rect x="2008" y="469" width="22" height="22" fill="#be947b"/><rect x="2030" y="469" width="21" height="22" fill="#be957d"/><rect x="2051" y="469" width="21" height="22" fill="#be967e"/><rect x="2072" y="469" width="22" height="22" fill="#be9780"/><rect x="2094" y="469" width="21" height="22" fill="#bd9881"/><rect x="2115" y="469" width="22" height="22" fill="#bd9983"/><rect x="2137" y="469" width="21" height="22" fill="#bc9a84"/><rect x="2158" y="469" width="21" height="22" fill="#bc9b86"/><rect x="2179" y="469" width="22" height="22" fill="#bb9c87"/><rect x="2201" y="469" width="21" height="22" fill="#bb9c88"/><rect x="2222" y="469" width="22" height="22" fill="#bb9d88"/><rect x="2244" y="469" width="42" height="22" fill="#bb9d89"/><rect x="2286" y="469" width="43" height="22" fill="#ba9e8a"/><rect x="2329" y="469" width="43" height="22" fill="#ba9e8b"/><rect x="2372" y="469" width="21" height="22" fill="#ba9f8b"/><rect x="2393" y="469" width="22" height="22" fill="#ba9f8c"/><rect x="2415" y="469" width="21" height="22" fill="#b99f8c"/><rect x="2436" y="469" width="22" height="22" fill="#b99f8d"/><rect x="2458" y="469" width="21" height="22" fill="#b9a08d"/><rect x="2479" y="469" width="42" height="22" fill="#b9a08e"/><rect x="2521" y="469" width="21" height="22" fill="#b8a08f"/><rect x="2542" y="469" width="36" height="22" fill="#b8a18f"/><rect x="2578" y="469" width="29" height="22" fill="#b8a190"/>
<polygon points="467.1,502.7 484.5,498.5 484.5,516.2 467.1,518.1" fill="#465ca8" stroke="#465ca8" stroke-width="1.2" shape-rendering="auto"/>
<polygon points="484.5,498.5 504.6,495.4 504.6,514.7 484.5,516.2" fill="#4257a5" stroke="#4257a5" stroke-width="1.2" shape-rendering="auto"/>
<polygon points="504.6,495.4 527.3,493.4 527.3,513.7 504.6,514.7" fill="#394b9c" stroke="#394b9c" stroke-width="1.2" shape-rendering="auto"/>
<polygon points="527.3,493.4 550.1,492.2 550.1,513.0 527.3,513.7" fill="#354597" stroke="#354597" stroke-width="1.2" shape-rendering="auto"/>
<polygon points="550.1,492.2 572.8,491.6 572.8,512.7 550.1,513.0" fill="#374899" stroke="#374899" stroke-width="1.2" shape-rendering="auto"/>
<polygon points="572.8,491.6 595.1,491.2 595.1,512.4 572.8,512.7" fill="#394b9c" stroke="#394b9c" stroke-width="1.2" shape-rendering="auto"/>
<polygon points="595.1,491.2 617.3,491.0 617.3,512.3 595.1,512.4" fill="#3c4f9f" stroke="#3c4f9f" stroke-width="1.2" shape-rendering="auto"/>
<polygon points="617.3,491.0 638.7,490.9 638.7,512.2 617.3,512.3" fill="#3f54a2" stroke="#3f54a2" stroke-width="1.2" shape-rendering="auto"/>
<rect x="639" y="491" width="21" height="21" fill="#4358a5"/><rect x="660" y="491" width="21" height="21" fill="#465da8"/><rect x="681" y="491" width="22" height="21" fill="#4a61ab"/><rect x="703" y="491" width="21" height="21" fill="#4d66ae"/><rect x="724" y="491" width="22" height="21" fill="#526cb1"/><rect x="746" y="491" width="21" height="21" fill="#5872b4"/><rect x="767" y="491" width="21" height="21" fill="#5d77b7"/><rect x="788" y="491" width="22" height="21" fill="#637db9"/><rect x="810" y="491" width="21" height="21" fill="#6a84bb"/><rect x="831" y="491" width="22" height="21" fill="#728bbc"/><rect x="853" y="491" width="21" height="21" fill="#7991bd"/><rect x="874" y="491" width="21" height="21" fill="#8197bc"/><rect x="895" y="491" width="22" height="21" fill="#889cba"/><rect x="917" y="491" width="21" height="21" fill="#97a4b4"/><rect x="938" y="491" width="22" height="21" fill="#a3a8ac"/><rect x="960" y="491" width="21" height="21" fill="#abaaa3"/><rect x="981" y="491" width="21" height="21" fill="#afa89e"/><rect x="1002" y="491" width="22" height="21" fill="#b5a496"/><rect x="1024" y="491" width="21" height="21" fill="#b9a08d"/><rect x="1045" y="491" width="22" height="21" fill="#bc9a84"/><rect x="1067" y="491" width="21" height="21" fill="#be9780"/><rect x="1088" y="491" width="21" height="21" fill="#be947b"/><rect x="1109" y="491" width="129" height="21" fill="#bf8f76"/><rect x="1238" y="491" width="21" height="21" fill="#bf8e74"/><rect x="1259" y="491" width="22" height="21" fill="#c08d73"/><rect x="1281" y="491" width="21" height="21" fill="#c08c71"/><rect x="1302" y="491" width="21" height="21" fill="#c08a70"/><rect x="1323" y="491" width="22" height="21" fill="#c0896f"/><rect x="1345" y="491" width="21" height="21" fill="#c0896e"/><rect x="1366" y="491" width="22" height="21" fill="#c0886d"/><rect x="1388" y="491" width="21" height="21" fill="#c0876c"/><rect x="1409" y="491" width="21" height="21" fill="#c0866b"/><rect x="1430" y="491" width="43" height="21" fill="#c0856a"/><rect x="1473" y="491" width="22" height="21" fill="#c0866a"/><rect x="1495" y="491" width="21" height="21" fill="#c0866b"/><rect x="1516" y="491" width="21" height="21" fill="#c0876b"/><rect x="1537" y="491" width="43" height="21" fill="#c0876c"/><rect x="1580" y="491" width="64" height="21" fill="#c0886d"/><rect x="1644" y="491" width="43" height="21" fill="#c0896e"/><rect x="1687" y="491" width="43" height="21" fill="#c08a6f"/><rect x="1730" y="491" width="21" height="21" fill="#c08a70"/><rect x="1751" y="491" width="22" height="21" fill="#c08d73"/><rect x="1773" y="491" width="21" height="21" fill="#bf8f75"/><rect x="1794" y="491" width="22" height="21" fill="#bf9278"/><rect x="1816" y="491" width="21" height="21" fill="#bf927a"/><rect x="1837" y="491" width="21" height="21" fill="#bf937b"/><rect x="1858" y="491" width="22" height="21" fill="#be947c"/><rect x="1880" y="491" width="21" height="21" fill="#be957d"/><rect x="1901" y="491" width="22" height="21" fill="#be967e"/><rect x="1923" y="491" width="21" height="21" fill="#be967f"/><rect x="1944" y="491" width="21" height="21" fill="#bd9780"/><rect x="1965" y="491" width="22" height="21" fill="#bd9881"/><rect x="1987" y="491" width="21" height="21" fill="#bd9982"/><rect x="2008" y="491" width="22" height="21" fill="#bd9983"/><rect x="2030" y="491" width="21" height="21" fill="#bc9a84"/><rect x="2051" y="491" width="21" height="21" fill="#bc9b85"/><rect x="2072" y="491" width="22" height="21" fill="#bc9b86"/><rect x="2094" y="491" width="21" height="21" fill="#bb9c87"/><rect x="2115" y="491" width="22" height="21" fill="#bb9d88"/><rect x="2137" y="491" width="21" height="21" fill="#ba9d8a"/><rect x="2158" y="491" width="21" height="21" fill="#ba9e8b"/><rect x="2179" y="491" width="22" height="21" fill="#ba9f8c"/><rect x="2201" y="491" width="21" height="21" fill="#b99f8c"/><rect x="2222" y="491" width="22" height="21" fill="#b99f8d"/><rect x="2244" y="491" width="21" height="21" fill="#b9a08d"/><rect x="2265" y="491" width="21" height="21" fill="#b9a08e"/><rect x="2286" y="491" width="22" height="21" fill="#b8a08e"/><rect x="2308" y="491" width="43" height="21" fill="#b8a18f"/><rect x="2351" y="491" width="21" height="21" fill="#b8a190"/><rect x="2372" y="491" width="21" height="21" fill="#b7a190"/><rect x="2393" y="491" width="43" height="21" fill="#b7a291"/><rect x="2436" y="491" width="22" height="21" fill="#b7a292"/><rect x="2458" y="491" width="42" height="21" fill="#b6a393"/><rect x="2500" y="491" width="42" height="21" fill="#b6a394"/><rect x="2542" y="491" width="53" height="21" fill="#b5a495"/><rect x="2595" y="491" width="12" height="21" fill="#b5a496"/>
<polygon points="467.1,518.1 484.5,516.2 484.5,536.6 467.1,537.9" fill="#4b62ac" stroke="#4b62ac" stroke-width="1.2" shape-rendering="auto"/>
<polygon points="484.5,516.2 504.6,514.7 504.6,535.6 484.5,536.6" fill="#445aa6" stroke="#445aa6" stroke-width="1.2" shape-rendering="auto"/>
<polygon points="504.6,514.7 527.3,513.7 527.3,534.8 504.6,535.6" fill="#3b4e9e" stroke="#3b4e9e" stroke-width="1.2" shape-rendering="auto"/>
<polygon points="527.3,513.7 550.1,513.0 550.1,534.3 527.3,534.8" fill="#364799" stroke="#364799" stroke-width="1.2" shape-rendering="auto"/>
<polygon points="550.1,513.0 572.8,512.7 572.8,534.0 550.1,534.3" fill="#334294" stroke="#334294" stroke-width="1.2" shape-rendering="auto"/>
<polygon points="572.8,512.7 595.1,512.4 595.1,533.8 572.8,534.0" fill="#324194" stroke="#324194" stroke-width="1.2" shape-rendering="auto"/>
<polygon points="595.1,512.4 617.3,512.3 617.3,533.7 595.1,533.8" fill="#324194" stroke="#324194" stroke-width="1.2" shape-rendering="auto"/>
<polygon points="617.3,512.3 638.7,512.2 638.7,533.6 617.3,533.7" fill="#324194" stroke="#324194" stroke-width="1.2" shape-rendering="auto"/>
<rect x="639" y="512" width="21" height="22" fill="#324194"/><rect x="660" y="512" width="21" height="22" fill="#354698"/><rect x="681" y="512" width="22" height="22" fill="#394a9b"/><rect x="703" y="512" width="21" height="22" fill="#3c4f9f"/><rect x="724" y="512" width="22" height="22" fill="#4257a5"/><rect x="746" y="512" width="21" height="22" fill="#485faa"/><rect x="767" y="512" width="21" height="22" fill="#4f67af"/><rect x="788" y="512" width="22" height="22" fill="#556fb3"/><rect x="810" y="512" width="21" height="22" fill="#5c76b6"/><rect x="831" y="512" width="22" height="22" fill="#627cb9"/><rect x="853" y="512" width="21" height="22" fill="#6983bb"/><rect x="874" y="512" width="21" height="22" fill="#6f89bc"/><rect x="895" y="512" width="22" height="22" fill="#768ebd"/><rect x="917" y="512" width="21" height="22" fill="#7b93bd"/><rect x="938" y="512" width="22" height="22" fill="#8398bc"/><rect x="960" y="512" width="21" height="22" fill="#8b9eba"/><rect x="981" y="512" width="21" height="22" fill="#90a0b8"/><rect x="1002" y="512" width="22" height="22" fill="#97a4b4"/><rect x="1024" y="512" width="21" height="22" fill="#9ea7af"/><rect x="1045" y="512" width="22" height="22" fill="#a9aaa5"/><rect x="1067" y="512" width="21" height="22" fill="#ada9a1"/><rect x="1088" y="512" width="21" height="22" fill="#b0a79d"/><rect x="1109" y="512" width="22" height="22" fill="#b3a698"/><rect x="1131" y="512" width="21" height="22" fill="#b6a393"/><rect x="1152" y="512" width="22" height="22" fill="#b9a08d"/><rect x="1174" y="512" width="21" height="22" fill="#bb9c87"/><rect x="1195" y="512" width="21" height="22" fill="#bd9881"/><rect x="1216" y="512" width="22" height="22" fill="#bd9780"/><rect x="1238" y="512" width="21" height="22" fill="#be977f"/><rect x="1259" y="512" width="22" height="22" fill="#be967e"/><rect x="1281" y="512" width="21" height="22" fill="#be957d"/><rect x="1302" y="512" width="21" height="22" fill="#be957c"/><rect x="1323" y="512" width="22" height="22" fill="#be947b"/><rect x="1345" y="512" width="21" height="22" fill="#bf947b"/><rect x="1366" y="512" width="43" height="22" fill="#bf937b"/><rect x="1409" y="512" width="64" height="22" fill="#bf937a"/><rect x="1473" y="512" width="150" height="22" fill="#bf9279"/><rect x="1623" y="512" width="64" height="22" fill="#bf937a"/><rect x="1687" y="512" width="22" height="22" fill="#bf937b"/><rect x="1709" y="512" width="21" height="22" fill="#bf947b"/><rect x="1730" y="512" width="21" height="22" fill="#be947b"/><rect x="1751" y="512" width="22" height="22" fill="#be957d"/><rect x="1773" y="512" width="21" height="22" fill="#be977f"/><rect x="1794" y="512" width="22" height="22" fill="#bd9881"/><rect x="1816" y="512" width="21" height="22" fill="#bd9982"/><rect x="1837" y="512" width="21" height="22" fill="#bd9a84"/><rect x="1858" y="512" width="22" height="22" fill="#bc9a85"/><rect x="1880" y="512" width="21" height="22" fill="#bc9b86"/><rect x="1901" y="512" width="22" height="22" fill="#bc9c87"/><rect x="1923" y="512" width="21" height="22" fill="#bb9c88"/><rect x="1944" y="512" width="21" height="22" fill="#bb9d89"/><rect x="1965" y="512" width="22" height="22" fill="#ba9e8a"/><rect x="1987" y="512" width="21" height="22" fill="#ba9e8b"/><rect x="2008" y="512" width="22" height="22" fill="#ba9f8c"/><rect x="2030" y="512" width="21" height="22" fill="#b9a08d"/><rect x="2051" y="512" width="21" height="22" fill="#b9a08e"/><rect x="2072" y="512" width="22" height="22" fill="#b8a18f"/><rect x="2094" y="512" width="21" height="22" fill="#b8a190"/><rect x="2115" y="512" width="22" height="22" fill="#b7a291"/><rect x="2137" y="512" width="21" height="22" fill="#b7a292"/><rect x="2158" y="512" width="21" height="22" fill="#b6a393"/><rect x="2179" y="512" width="22" height="22" fill="#b5a394"/><rect x="2201" y="512" width="43" height="22" fill="#b5a495"/><rect x="2244" y="512" width="21" height="22" fill="#b5a496"/><rect x="2265" y="512" width="21" height="22" fill="#b4a596"/><rect x="2286" y="512" width="43" height="22" fill="#b4a597"/><rect x="2329" y="512" width="43" height="22" fill="#b3a598"/><rect x="2372" y="512" width="21" height="22" fill="#b3a699"/><rect x="2393" y="512" width="22" height="22" fill="#b2a699"/><rect x="2415" y="512" width="43" height="22" fill="#b2a69a"/><rect x="2458" y="512" width="42" height="22" fill="#b1a79b"/><rect x="2500" y="512" width="21" height="22" fill="#b1a79c"/><rect x="2521" y="512" width="21" height="22" fill="#b0a79c"/><rect x="2542" y="512" width="18" height="22" fill="#b0a79d"/><rect x="2560" y="512" width="18" height="22" fill="#b0a89d"/><rect x="2578" y="512" width="29" height="22" fill="#afa89e"/>
<polygon points="467.1,537.9 484.5,536.6 484.5,557.2 467.1,558.2" fill="#3e52a1" stroke="#3e52a1" stroke-width="1.2" shape-rendering="auto"/>
<polygon points="484.5,536.6 504.6,535.6 504.6,556.4 484.5,557.2" fill="#3d51a0" stroke="#3d51a0" stroke-width="1.2" shape-rendering="auto"/>
<polygon points="504.6,535.6 527.3,534.8 527.3,555.8 504.6,556.4" fill="#3c4f9f" stroke="#3c4f9f" stroke-width="1.2" shape-rendering="auto"/>
<polygon points="527.3,534.8 550.1,534.3 550.1,555.4 527.3,555.8" fill="#3b4d9e" stroke="#3b4d9e" stroke-width="1.2" shape-rendering="auto"/>
<polygon points="550.1,534.3 572.8,534.0 572.8,555.2 550.1,555.4" fill="#394c9c" stroke="#394c9c" stroke-width="1.2" shape-rendering="auto"/>
<polygon points="572.8,534.0 595.1,533.8 595.1,555.1 572.8,555.2" fill="#384a9b" stroke="#384a9b" stroke-width="1.2" shape-rendering="auto"/>
<polygon points="595.1,533.8 617.3,533.7 617.3,555.0 595.1,555.1" fill="#374899" stroke="#374899" stroke-width="1.2" shape-rendering="auto"/>
<polygon points="617.3,533.7 638.7,533.6 638.7,554.9 617.3,555.0" fill="#364698" stroke="#364698" stroke-width="1.2" shape-rendering="auto"/>
<rect x="639" y="534" width="107" height="21" fill="#354597"/><rect x="746" y="534" width="21" height="21" fill="#38499a"/><rect x="767" y="534" width="21" height="21" fill="#3b4e9e"/><rect x="788" y="534" width="22" height="21" fill="#3e52a1"/><rect x="810" y="534" width="21" height="21" fill="#4459a6"/><rect x="831" y="534" width="22" height="21" fill="#4961ab"/><rect x="853" y="534" width="21" height="21" fill="#4f67af"/><rect x="874" y="534" width="21" height="21" fill="#556eb3"/><rect x="895" y="534" width="22" height="21" fill="#5a74b6"/><rect x="917" y="534" width="21" height="21" fill="#5e79b7"/><rect x="938" y="534" width="22" height="21" fill="#637db9"/><rect x="960" y="534" width="21" height="21" fill="#6882bb"/><rect x="981" y="534" width="21" height="21" fill="#6d87bc"/><rect x="1002" y="534" width="22" height="21" fill="#748dbd"/><rect x="1024" y="534" width="21" height="21" fill="#7b93bd"/><rect x="1045" y="534" width="22" height="21" fill="#8398bc"/><rect x="1067" y="534" width="21" height="21" fill="#8b9dba"/><rect x="1088" y="534" width="21" height="21" fill="#90a0b8"/><rect x="1109" y="534" width="22" height="21" fill="#95a3b5"/><rect x="1131" y="534" width="21" height="21" fill="#9aa5b3"/><rect x="1152" y="534" width="22" height="21" fill="#9ea7af"/><rect x="1174" y="534" width="21" height="21" fill="#a3a8ac"/><rect x="1195" y="534" width="21" height="21" fill="#a7a9a8"/><rect x="1216" y="534" width="22" height="21" fill="#a9aaa5"/><rect x="1238" y="534" width="21" height="21" fill="#abaaa3"/><rect x="1259" y="534" width="22" height="21" fill="#ada9a1"/><rect x="1281" y="534" width="21" height="21" fill="#afa89e"/><rect x="1302" y="534" width="21" height="21" fill="#b1a79b"/><rect x="1323" y="534" width="22" height="21" fill="#b4a597"/><rect x="1345" y="534" width="21" height="21" fill="#b7a292"/><rect x="1366" y="534" width="22" height="21" fill="#b9a08d"/><rect x="1388" y="534" width="21" height="21" fill="#ba9e8a"/><rect x="1409" y="534" width="21" height="21" fill="#bb9c87"/><rect x="1430" y="534" width="321" height="21" fill="#bc9a84"/><rect x="1751" y="534" width="22" height="21" fill="#bb9c87"/><rect x="1773" y="534" width="21" height="21" fill="#ba9e8a"/><rect x="1794" y="534" width="22" height="21" fill="#b9a08d"/><rect x="1816" y="534" width="21" height="21" fill="#b9a08e"/><rect x="1837" y="534" width="21" height="21" fill="#b8a18f"/><rect x="1858" y="534" width="22" height="21" fill="#b7a190"/><rect x="1880" y="534" width="21" height="21" fill="#b7a292"/><rect x="1901" y="534" width="22" height="21" fill="#b6a393"/><rect x="1923" y="534" width="21" height="21" fill="#b6a394"/><rect x="1944" y="534" width="21" height="21" fill="#b5a495"/><rect x="1965" y="534" width="22" height="21" fill="#b4a496"/><rect x="1987" y="534" width="21" height="21" fill="#b4a597"/><rect x="2008" y="534" width="22" height="21" fill="#b3a598"/><rect x="2030" y="534" width="21" height="21" fill="#b2a699"/><rect x="2051" y="534" width="21" height="21" fill="#b2a69a"/><rect x="2072" y="534" width="22" height="21" fill="#b1a79b"/><rect x="2094" y="534" width="21" height="21" fill="#b0a79c"/><rect x="2115" y="534" width="22" height="21" fill="#b0a89d"/><rect x="2137" y="534" width="21" height="21" fill="#afa89e"/><rect x="2158" y="534" width="21" height="21" fill="#aea9a0"/><rect x="2179" y="534" width="65" height="21" fill="#ada9a1"/><rect x="2244" y="534" width="21" height="21" fill="#aca9a1"/><rect x="2265" y="534" width="43" height="21" fill="#aca9a2"/><rect x="2308" y="534" width="21" height="21" fill="#acaaa2"/><rect x="2329" y="534" width="22" height="21" fill="#acaaa3"/><rect x="2351" y="534" width="64" height="21" fill="#abaaa3"/><rect x="2415" y="534" width="21" height="21" fill="#abaaa4"/><rect x="2436" y="534" width="64" height="21" fill="#aaaaa4"/><rect x="2500" y="534" width="42" height="21" fill="#aaaaa5"/><rect x="2542" y="534" width="65" height="21" fill="#a9aaa5"/>
<polygon points="467.1,558.2 484.5,557.2 484.5,579.0 467.1,580.2" fill="#3e52a1" stroke="#3e52a1" stroke-width="1.2" shape-rendering="auto"/>
<polygon points="484.5,557.2 504.6,556.4 504.6,578.1 484.5,579.0" fill="#3e52a1" stroke="#3e52a1" stroke-width="1.2" shape-rendering="auto"/>
<polygon points="504.6,556.4 527.3,555.8 527.3,577.4 504.6,578.1" fill="#3e52a1" stroke="#3e52a1" stroke-width="1.2" shape-rendering="auto"/>
<polygon points="527.3,555.8 550.1,555.4 550.1,577.0 527.3,577.4" fill="#3e53a2" stroke="#3e53a2" stroke-width="1.2" shape-rendering="auto"/>
<polygon points="550.1,555.4 572.8,555.2 572.8,576.7 550.1,577.0" fill="#3f53a2" stroke="#3f53a2" stroke-width="1.2" shape-rendering="auto"/>
<polygon points="572.8,555.2 595.1,555.1 595.1,576.5 572.8,576.7" fill="#3f53a2" stroke="#3f53a2" stroke-width="1.2" shape-rendering="auto"/>
<polygon points="595.1,555.1 617.3,555.0 617.3,576.4 595.1,576.5" fill="#3f53a2" stroke="#3f53a2" stroke-width="1.2" shape-rendering="auto"/>
<polygon points="617.3,555.0 638.7,554.9 638.7,576.3 617.3,576.4" fill="#3f53a2" stroke="#3f53a2" stroke-width="1.2" shape-rendering="auto"/>
<rect x="639" y="555" width="85" height="21" fill="#3f54a2"/><rect x="724" y="555" width="64" height="21" fill="#4054a3"/><rect x="788" y="555" width="107" height="21" fill="#4055a3"/><rect x="895" y="555" width="65" height="21" fill="#4155a4"/><rect x="960" y="555" width="21" height="21" fill="#4156a4"/><rect x="981" y="555" width="21" height="21" fill="#465ca8"/><rect x="1002" y="555" width="22" height="21" fill="#4c64ad"/><rect x="1024" y="555" width="21" height="21" fill="#526cb1"/><rect x="1045" y="555" width="22" height="21" fill="#5a74b6"/><rect x="1067" y="555" width="21" height="21" fill="#627db9"/><rect x="1088" y="555" width="21" height="21" fill="#6983bb"/><rect x="1109" y="555" width="22" height="21" fill="#708abc"/><rect x="1131" y="555" width="21" height="21" fill="#768ebd"/><rect x="1152" y="555" width="22" height="21" fill="#7b93bd"/><rect x="1174" y="555" width="21" height="21" fill="#8398bc"/><rect x="1195" y="555" width="21" height="21" fill="#8b9dba"/><rect x="1216" y="555" width="22" height="21" fill="#90a0b8"/><rect x="1238" y="555" width="21" height="21" fill="#95a3b5"/><rect x="1259" y="555" width="22" height="21" fill="#97a4b4"/><rect x="1281" y="555" width="21" height="21" fill="#9aa5b3"/><rect x="1302" y="555" width="21" height="21" fill="#9ca6b1"/><rect x="1323" y="555" width="22" height="21" fill="#a2a8ad"/><rect x="1345" y="555" width="21" height="21" fill="#a7a9a8"/><rect x="1366" y="555" width="22" height="21" fill="#a9aaa5"/><rect x="1388" y="555" width="21" height="21" fill="#abaaa3"/><rect x="1409" y="555" width="21" height="21" fill="#ada9a1"/><rect x="1430" y="555" width="22" height="21" fill="#afa89e"/><rect x="1452" y="555" width="21" height="21" fill="#b0a79d"/><rect x="1473" y="555" width="22" height="21" fill="#b1a79c"/><rect x="1495" y="555" width="21" height="21" fill="#b2a79b"/><rect x="1516" y="555" width="21" height="21" fill="#b2a69a"/><rect x="1537" y="555" width="22" height="21" fill="#b3a698"/><rect x="1559" y="555" width="43" height="21" fill="#b3a699"/><rect x="1602" y="555" width="21" height="21" fill="#b2a699"/><rect x="1623" y="555" width="64" height="21" fill="#b2a69a"/><rect x="1687" y="555" width="22" height="21" fill="#b2a79b"/><rect x="1709" y="555" width="42" height="21" fill="#b1a79b"/><rect x="1751" y="555" width="22" height="21" fill="#b1a79c"/><rect x="1773" y="555" width="21" height="21" fill="#b0a79d"/><rect x="1794" y="555" width="22" height="21" fill="#b0a89d"/><rect x="1816" y="555" width="21" height="21" fill="#afa89e"/><rect x="1837" y="555" width="21" height="21" fill="#afa89f"/><rect x="1858" y="555" width="22" height="21" fill="#aea89f"/><rect x="1880" y="555" width="21" height="21" fill="#aea9a0"/><rect x="1901" y="555" width="43" height="21" fill="#ada9a1"/><rect x="1944" y="555" width="21" height="21" fill="#aca9a2"/><rect x="1965" y="555" width="22" height="21" fill="#acaaa3"/><rect x="1987" y="555" width="21" height="21" fill="#abaaa3"/><rect x="2008" y="555" width="43" height="21" fill="#aaaaa4"/><rect x="2051" y="555" width="21" height="21" fill="#aaaaa5"/><rect x="2072" y="555" width="22" height="21" fill="#a9aaa5"/><rect x="2094" y="555" width="21" height="21" fill="#a9aaa6"/><rect x="2115" y="555" width="43" height="21" fill="#a8a9a7"/><rect x="2158" y="555" width="107" height="21" fill="#a7a9a8"/><rect x="2265" y="555" width="86" height="21" fill="#a6a9a8"/><rect x="2351" y="555" width="128" height="21" fill="#a6a9a9"/><rect x="2479" y="555" width="81" height="21" fill="#a5a9a9"/><rect x="2560" y="555" width="47" height="21" fill="#a5a9aa"/>
<polygon points="467.1,580.2 484.5,579.0 484.5,599.7 467.1,600.6" fill="#354597" stroke="#354597" stroke-width="1.2" shape-rendering="auto"/>
<polygon points="484.5,579.0 504.6,578.1 504.6,599.0 484.5,599.7" fill="#364799" stroke="#364799" stroke-width="1.2" shape-rendering="auto"/>
<polygon points="504.6,578.1 527.3,577.4 527.3,598.5 504.6,599.0" fill="#384a9b" stroke="#384a9b" stroke-width="1.2" shape-rendering="auto"/>
<polygon points="527.3,577.4 550.1,577.0 550.1,598.2 527.3,598.5" fill="#3a4d9d" stroke="#3a4d9d" stroke-width="1.2" shape-rendering="auto"/>
<polygon points="550.1,577.0 572.8,576.7 572.8,598.0 550.1,598.2" fill="#3c509f" stroke="#3c509f" stroke-width="1.2" shape-rendering="auto"/>
<polygon points="572.8,576.7 595.1,576.5 595.1,597.8 572.8,598.0" fill="#3e53a1" stroke="#3e53a1" stroke-width="1.2" shape-rendering="auto"/>
<polygon points="595.1,576.5 617.3,576.4 617.3,597.7 595.1,597.8" fill="#4155a4" stroke="#4155a4" stroke-width="1.2" shape-rendering="auto"/>
<polygon points="617.3,576.4 638.7,576.3 638.7,597.7 617.3,597.7" fill="#4258a5" stroke="#4258a5" stroke-width="1.2" shape-rendering="auto"/>
<rect x="639" y="576" width="21" height="22" fill="#445aa7"/><rect x="660" y="576" width="21" height="22" fill="#465ca8"/><rect x="681" y="576" width="22" height="22" fill="#475ea9"/><rect x="703" y="576" width="21" height="22" fill="#4960ab"/><rect x="724" y="576" width="22" height="22" fill="#4b62ac"/><rect x="746" y="576" width="21" height="22" fill="#4b63ad"/><rect x="767" y="576" width="21" height="22" fill="#4c64ad"/><rect x="788" y="576" width="22" height="22" fill="#4d65ad"/><rect x="810" y="576" width="21" height="22" fill="#4d65ae"/><rect x="831" y="576" width="22" height="22" fill="#4c64ad"/><rect x="853" y="576" width="21" height="22" fill="#4b62ac"/><rect x="874" y="576" width="21" height="22" fill="#4961ab"/><rect x="895" y="576" width="22" height="22" fill="#485faa"/><rect x="917" y="576" width="21" height="22" fill="#445aa7"/><rect x="938" y="576" width="22" height="22" fill="#4155a3"/><rect x="960" y="576" width="21" height="22" fill="#394b9c"/><rect x="981" y="576" width="21" height="22" fill="#364698"/><rect x="1002" y="576" width="22" height="22" fill="#324194"/><rect x="1024" y="576" width="21" height="22" fill="#354597"/><rect x="1045" y="576" width="22" height="22" fill="#3c4f9f"/><rect x="1067" y="576" width="21" height="22" fill="#4257a5"/><rect x="1088" y="576" width="21" height="22" fill="#485faa"/><rect x="1109" y="576" width="22" height="22" fill="#516ab1"/><rect x="1131" y="576" width="21" height="22" fill="#5a74b6"/><rect x="1152" y="576" width="22" height="22" fill="#617bb8"/><rect x="1174" y="576" width="21" height="22" fill="#6882bb"/><rect x="1195" y="576" width="21" height="22" fill="#6d87bc"/><rect x="1216" y="576" width="22" height="22" fill="#738cbc"/><rect x="1238" y="576" width="21" height="22" fill="#768fbd"/><rect x="1259" y="576" width="22" height="22" fill="#7a92bd"/><rect x="1281" y="576" width="21" height="22" fill="#7e95bc"/><rect x="1302" y="576" width="21" height="22" fill="#8398bc"/><rect x="1323" y="576" width="22" height="22" fill="#889cba"/><rect x="1345" y="576" width="21" height="22" fill="#8fa0b8"/><rect x="1366" y="576" width="22" height="22" fill="#95a3b5"/><rect x="1388" y="576" width="21" height="22" fill="#97a4b4"/><rect x="1409" y="576" width="21" height="22" fill="#9aa5b3"/><rect x="1430" y="576" width="22" height="22" fill="#9ca6b1"/><rect x="1452" y="576" width="21" height="22" fill="#9ea7af"/><rect x="1473" y="576" width="22" height="22" fill="#a0a8ae"/><rect x="1495" y="576" width="21" height="22" fill="#a2a8ad"/><rect x="1516" y="576" width="21" height="22" fill="#a3a8ab"/><rect x="1537" y="576" width="22" height="22" fill="#a5a9aa"/><rect x="1559" y="576" width="21" height="22" fill="#a6a9a9"/><rect x="1580" y="576" width="22" height="22" fill="#a7a9a8"/><rect x="1602" y="576" width="21" height="22" fill="#a7a9a7"/><rect x="1623" y="576" width="21" height="22" fill="#a8aaa6"/><rect x="1644" y="576" width="22" height="22" fill="#a9aaa5"/><rect x="1666" y="576" width="21" height="22" fill="#a8aaa6"/><rect x="1687" y="576" width="22" height="22" fill="#a7a9a7"/><rect x="1709" y="576" width="21" height="22" fill="#a7a9a8"/><rect x="1730" y="576" width="21" height="22" fill="#a6a9a9"/><rect x="1751" y="576" width="22" height="22" fill="#a5a9aa"/><rect x="1773" y="576" width="21" height="22" fill="#a4a9aa"/><rect x="1794" y="576" width="22" height="22" fill="#a4a9ab"/><rect x="1816" y="576" width="21" height="22" fill="#a3a8ab"/><rect x="1837" y="576" width="21" height="22" fill="#a3a8ac"/><rect x="1858" y="576" width="22" height="22" fill="#a2a8ac"/><rect x="1880" y="576" width="21" height="22" fill="#a2a8ad"/><rect x="1901" y="576" width="22" height="22" fill="#a1a8ad"/><rect x="1923" y="576" width="21" height="22" fill="#a0a8ae"/><rect x="1944" y="576" width="21" height="22" fill="#a0a7ae"/><rect x="1965" y="576" width="43" height="22" fill="#9fa7af"/><rect x="2008" y="576" width="22" height="22" fill="#9ea7b0"/><rect x="2030" y="576" width="21" height="22" fill="#9da7b0"/><rect x="2051" y="576" width="21" height="22" fill="#9da6b0"/><rect x="2072" y="576" width="43" height="22" fill="#9ca6b1"/><rect x="2115" y="576" width="22" height="22" fill="#9ba6b2"/><rect x="2137" y="576" width="21" height="22" fill="#9aa5b2"/><rect x="2158" y="576" width="21" height="22" fill="#9aa5b3"/><rect x="2179" y="576" width="129" height="22" fill="#9aa5b2"/><rect x="2308" y="576" width="150" height="22" fill="#9ba6b2"/><rect x="2458" y="576" width="21" height="22" fill="#9ba6b1"/><rect x="2479" y="576" width="128" height="22" fill="#9ca6b1"/>
<polygon points="467.1,600.6 484.5,599.7 484.5,621.5 467.1,622.6" fill="#324194" stroke="#324194" stroke-width="1.2" shape-rendering="auto"/>
<polygon points="484.5,599.7 504.6,599.0 504.6,620.6 484.5,621.5" fill="#344396" stroke="#344396" stroke-width="1.2" shape-rendering="auto"/>
<polygon points="504.6,599.0 527.3,598.5 527.3,620.0 504.6,620.6" fill="#354698" stroke="#354698" stroke-width="1.2" shape-rendering="auto"/>
<polygon points="527.3,598.5 550.1,598.2 550.1,619.6 527.3,620.0" fill="#37499a" stroke="#37499a" stroke-width="1.2" shape-rendering="auto"/>
<polygon points="550.1,598.2 572.8,598.0 572.8,619.3 550.1,619.6" fill="#394b9c" stroke="#394b9c" stroke-width="1.2" shape-rendering="auto"/>
<polygon points="572.8,598.0 595.1,597.8 595.1,619.2 572.8,619.3" fill="#3c4f9f" stroke="#3c4f9f" stroke-width="1.2" shape-rendering="auto"/>
<polygon points="595.1,597.8 617.3,597.7 617.3,619.1 595.1,619.2" fill="#3e52a1" stroke="#3e52a1" stroke-width="1.2" shape-rendering="auto"/>
<polygon points="617.3,597.7 638.7,597.7 638.7,619.0 617.3,619.1" fill="#4156a4" stroke="#4156a4" stroke-width="1.2" shape-rendering="auto"/>
<rect x="639" y="598" width="21" height="21" fill="#4359a6"/><rect x="660" y="598" width="21" height="21" fill="#465da8"/><rect x="681" y="598" width="22" height="21" fill="#4960ab"/><rect x="703" y="598" width="21" height="21" fill="#4c64ad"/><rect x="724" y="598" width="22" height="21" fill="#4f68af"/><rect x="746" y="598" width="21" height="21" fill="#526cb1"/><rect x="767" y="598" width="21" height="21" fill="#556fb3"/><rect x="788" y="598" width="22" height="21" fill="#5872b4"/><rect x="810" y="598" width="21" height="21" fill="#5a74b6"/><rect x="831" y="598" width="22" height="21" fill="#5d77b7"/><rect x="853" y="598" width="192" height="21" fill="#607ab8"/><rect x="1045" y="598" width="22" height="21" fill="#5872b4"/><rect x="1067" y="598" width="21" height="21" fill="#5069b0"/><rect x="1088" y="598" width="21" height="21" fill="#485faa"/><rect x="1109" y="598" width="86" height="21" fill="#4359a6"/><rect x="1195" y="598" width="21" height="21" fill="#465ca8"/><rect x="1216" y="598" width="22" height="21" fill="#4d65ae"/><rect x="1238" y="598" width="21" height="21" fill="#5872b4"/><rect x="1259" y="598" width="22" height="21" fill="#5d77b7"/><rect x="1281" y="598" width="21" height="21" fill="#627db9"/><rect x="1302" y="598" width="21" height="21" fill="#6983bb"/><rect x="1323" y="598" width="22" height="21" fill="#708abc"/><rect x="1345" y="598" width="21" height="21" fill="#748dbd"/><rect x="1366" y="598" width="22" height="21" fill="#7890bd"/><rect x="1388" y="598" width="21" height="21" fill="#7e95bc"/><rect x="1409" y="598" width="21" height="21" fill="#8398bc"/><rect x="1430" y="598" width="22" height="21" fill="#879bbb"/><rect x="1452" y="598" width="21" height="21" fill="#8a9dba"/><rect x="1473" y="598" width="22" height="21" fill="#8d9fb9"/><rect x="1495" y="598" width="21" height="21" fill="#90a0b8"/><rect x="1516" y="598" width="21" height="21" fill="#92a2b7"/><rect x="1537" y="598" width="236" height="21" fill="#95a3b5"/><rect x="1773" y="598" width="21" height="21" fill="#94a3b6"/><rect x="1794" y="598" width="22" height="21" fill="#94a2b6"/><rect x="1816" y="598" width="42" height="21" fill="#93a2b6"/><rect x="1858" y="598" width="22" height="21" fill="#92a2b7"/><rect x="1880" y="598" width="21" height="21" fill="#92a1b7"/><rect x="1901" y="598" width="43" height="21" fill="#91a1b7"/><rect x="1944" y="598" width="21" height="21" fill="#90a1b8"/><rect x="1965" y="598" width="22" height="21" fill="#90a0b8"/><rect x="1987" y="598" width="43" height="21" fill="#8fa0b8"/><rect x="2030" y="598" width="21" height="21" fill="#8e9fb8"/><rect x="2051" y="598" width="21" height="21" fill="#8e9fb9"/><rect x="2072" y="598" width="22" height="21" fill="#8d9fb9"/><rect x="2094" y="598" width="21" height="21" fill="#8d9eb9"/><rect x="2115" y="598" width="22" height="21" fill="#8c9eb9"/><rect x="2137" y="598" width="21" height="21" fill="#8b9eb9"/><rect x="2158" y="598" width="21" height="21" fill="#8b9dba"/><rect x="2179" y="598" width="22" height="21" fill="#8b9eb9"/><rect x="2201" y="598" width="43" height="21" fill="#8c9eb9"/><rect x="2244" y="598" width="42" height="21" fill="#8d9fb9"/><rect x="2286" y="598" width="22" height="21" fill="#8e9fb9"/><rect x="2308" y="598" width="21" height="21" fill="#8ea0b8"/><rect x="2329" y="598" width="43" height="21" fill="#8fa0b8"/><rect x="2372" y="598" width="21" height="21" fill="#90a0b8"/><rect x="2393" y="598" width="22" height="21" fill="#90a1b7"/><rect x="2415" y="598" width="43" height="21" fill="#91a1b7"/><rect x="2458" y="598" width="21" height="21" fill="#92a1b7"/><rect x="2479" y="598" width="21" height="21" fill="#92a2b7"/><rect x="2500" y="598" width="42" height="21" fill="#93a2b6"/><rect x="2542" y="598" width="18" height="21" fill="#94a2b6"/><rect x="2560" y="598" width="18" height="21" fill="#94a3b6"/><rect x="2578" y="598" width="29" height="21" fill="#95a3b5"/>
<polygon points="467.1,622.6 484.5,621.5 484.5,639.8 467.1,640.7" fill="#324194" stroke="#324194" stroke-width="1.2" shape-rendering="auto"/>
<polygon points="484.5,621.5 504.6,620.6 504.6,639.1 484.5,639.8" fill="#334395" stroke="#334395" stroke-width="1.2" shape-rendering="auto"/>
<polygon points="504.6,620.6 527.3,620.0 527.3,638.6 504.6,639.1" fill="#344496" stroke="#344496" stroke-width="1.2" shape-rendering="auto"/>
<polygon points="527.3,620.0 550.1,619.6 550.1,638.3 527.3,638.6" fill="#364698" stroke="#364698" stroke-width="1.2" shape-rendering="auto"/>
<polygon points="550.1,619.6 572.8,619.3 572.8,638.1 550.1,638.3" fill="#374899" stroke="#374899" stroke-width="1.2" shape-rendering="auto"/>
<polygon points="572.8,619.3 595.1,619.2 595.1,637.9 572.8,638.1" fill="#394b9b" stroke="#394b9b" stroke-width="1.2" shape-rendering="auto"/>
<polygon points="595.1,619.2 617.3,619.1 617.3,637.8 595.1,637.9" fill="#3b4d9d" stroke="#3b4d9d" stroke-width="1.2" shape-rendering="auto"/>
<polygon points="617.3,619.1 638.7,619.0 638.7,637.8 617.3,637.8" fill="#3c509f" stroke="#3c509f" stroke-width="1.2" shape-rendering="auto"/>
<rect x="639" y="619" width="21" height="19" fill="#3e52a1"/><rect x="660" y="619" width="21" height="19" fill="#4156a4"/><rect x="681" y="619" width="22" height="19" fill="#4359a6"/><rect x="703" y="619" width="21" height="19" fill="#465ca8"/><rect x="724" y="619" width="22" height="19" fill="#4c63ad"/><rect x="746" y="619" width="21" height="19" fill="#526bb1"/><rect x="767" y="619" width="21" height="19" fill="#5872b4"/><rect x="788" y="619" width="22" height="19" fill="#607ab8"/><rect x="810" y="619" width="21" height="19" fill="#6882bb"/><rect x="831" y="619" width="22" height="19" fill="#6d87bc"/><rect x="853" y="619" width="21" height="19" fill="#728bbc"/><rect x="874" y="619" width="21" height="19" fill="#768fbd"/><rect x="895" y="619" width="22" height="19" fill="#7b93bd"/><rect x="917" y="619" width="128" height="19" fill="#8097bc"/><rect x="1045" y="619" width="22" height="19" fill="#8096bc"/><rect x="1067" y="619" width="21" height="19" fill="#7a91bd"/><rect x="1088" y="619" width="21" height="19" fill="#738cbc"/><rect x="1109" y="619" width="22" height="19" fill="#6882bb"/><rect x="1131" y="619" width="21" height="19" fill="#5d77b7"/><rect x="1152" y="619" width="22" height="19" fill="#526cb1"/><rect x="1174" y="619" width="21" height="19" fill="#485faa"/><rect x="1195" y="619" width="21" height="19" fill="#465ca8"/><rect x="1216" y="619" width="22" height="19" fill="#4359a6"/><rect x="1238" y="619" width="21" height="19" fill="#4258a5"/><rect x="1259" y="619" width="22" height="19" fill="#4157a4"/><rect x="1281" y="619" width="21" height="19" fill="#4155a4"/><rect x="1302" y="619" width="21" height="19" fill="#465ca8"/><rect x="1323" y="619" width="22" height="19" fill="#4b62ac"/><rect x="1345" y="619" width="21" height="19" fill="#546db2"/><rect x="1366" y="619" width="22" height="19" fill="#5d77b7"/><rect x="1388" y="619" width="21" height="19" fill="#657fba"/><rect x="1409" y="619" width="21" height="19" fill="#6d87bc"/><rect x="1430" y="619" width="22" height="19" fill="#718abc"/><rect x="1452" y="619" width="21" height="19" fill="#758dbd"/><rect x="1473" y="619" width="22" height="19" fill="#7890bd"/><rect x="1495" y="619" width="21" height="19" fill="#7a92bd"/><rect x="1516" y="619" width="21" height="19" fill="#7c93bc"/><rect x="1537" y="619" width="22" height="19" fill="#7e95bc"/><rect x="1559" y="619" width="21" height="19" fill="#7f95bc"/><rect x="1580" y="619" width="22" height="19" fill="#8096bc"/><rect x="1602" y="619" width="21" height="19" fill="#8197bc"/><rect x="1623" y="619" width="21" height="19" fill="#8298bc"/><rect x="1644" y="619" width="107" height="19" fill="#8398bc"/><rect x="1751" y="619" width="150" height="19" fill="#8298bc"/><rect x="1901" y="619" width="43" height="19" fill="#8297bc"/><rect x="1944" y="619" width="193" height="19" fill="#8197bc"/><rect x="2137" y="619" width="42" height="19" fill="#8097bc"/><rect x="2179" y="619" width="43" height="19" fill="#8197bc"/><rect x="2222" y="619" width="22" height="19" fill="#8297bc"/><rect x="2244" y="619" width="42" height="19" fill="#8298bc"/><rect x="2286" y="619" width="43" height="19" fill="#8398bc"/><rect x="2329" y="619" width="64" height="19" fill="#8499bb"/><rect x="2393" y="619" width="43" height="19" fill="#859abb"/><rect x="2436" y="619" width="43" height="19" fill="#869abb"/><rect x="2479" y="619" width="21" height="19" fill="#869bbb"/><rect x="2500" y="619" width="60" height="19" fill="#879bbb"/><rect x="2560" y="619" width="18" height="19" fill="#889cbb"/><rect x="2578" y="619" width="29" height="19" fill="#889cba"/>
<polygon points="467.1,640.7 484.5,639.8 484.5,655.5 467.1,656.2" fill="#303e91" stroke="#303e91" stroke-width="1.2" shape-rendering="auto"/>
<polygon points="484.5,639.8 504.6,639.1 504.6,655.0 484.5,655.5" fill="#303d91" stroke="#303d91" stroke-width="1.2" shape-rendering="auto"/>
<polygon points="504.6,639.1 527.3,638.6 527.3,654.6 504.6,655.0" fill="#2f3d90" stroke="#2f3d90" stroke-width="1.2" shape-rendering="auto"/>
<polygon points="527.3,638.6 550.1,638.3 550.1,654.5 527.3,654.6" fill="#2f3c8f" stroke="#2f3c8f" stroke-width="1.2" shape-rendering="auto"/>
<polygon points="550.1,638.3 572.8,638.1 572.8,654.3 550.1,654.5" fill="#2e3b8f" stroke="#2e3b8f" stroke-width="1.2" shape-rendering="auto"/>
<polygon points="572.8,638.1 595.1,637.9 595.1,654.3 572.8,654.3" fill="#2e3b8e" stroke="#2e3b8e" stroke-width="1.2" shape-rendering="auto"/>
<polygon points="595.1,637.9 617.3,637.8 617.3,654.2 595.1,654.3" fill="#2e3b8e" stroke="#2e3b8e" stroke-width="1.2" shape-rendering="auto"/>
<rect x="617" y="638" width="86" height="16" fill="#2e3b8e"/><rect x="703" y="638" width="21" height="16" fill="#394c9c"/><rect x="724" y="638" width="22" height="16" fill="#4156a4"/><rect x="746" y="638" width="21" height="16" fill="#485faa"/><rect x="767" y="638" width="21" height="16" fill="#5069b0"/><rect x="788" y="638" width="22" height="16" fill="#5872b4"/><rect x="810" y="638" width="21" height="16" fill="#617bb8"/><rect x="831" y="638" width="22" height="16" fill="#6a84bb"/><rect x="853" y="638" width="21" height="16" fill="#738cbc"/><rect x="874" y="638" width="21" height="16" fill="#7c94bc"/><rect x="895" y="638" width="22" height="16" fill="#869abb"/><rect x="917" y="638" width="21" height="16" fill="#8e9fb9"/><rect x="938" y="638" width="86" height="16" fill="#95a3b5"/><rect x="1024" y="638" width="21" height="16" fill="#93a2b6"/><rect x="1045" y="638" width="22" height="16" fill="#92a1b7"/><rect x="1067" y="638" width="21" height="16" fill="#90a0b8"/><rect x="1088" y="638" width="21" height="16" fill="#869abb"/><rect x="1109" y="638" width="22" height="16" fill="#7b92bd"/><rect x="1131" y="638" width="21" height="16" fill="#718bbc"/><rect x="1152" y="638" width="22" height="16" fill="#6882bb"/><rect x="1174" y="638" width="21" height="16" fill="#5e79b7"/><rect x="1195" y="638" width="21" height="16" fill="#556fb3"/><rect x="1216" y="638" width="22" height="16" fill="#4d65ae"/><rect x="1238" y="638" width="21" height="16" fill="#465ca8"/><rect x="1259" y="638" width="22" height="16" fill="#4258a5"/><rect x="1281" y="638" width="21" height="16" fill="#3f53a2"/><rect x="1302" y="638" width="21" height="16" fill="#3c4f9f"/><rect x="1323" y="638" width="22" height="16" fill="#3f54a2"/><rect x="1345" y="638" width="21" height="16" fill="#4359a6"/><rect x="1366" y="638" width="22" height="16" fill="#465ca8"/><rect x="1388" y="638" width="21" height="16" fill="#485faa"/><rect x="1409" y="638" width="21" height="16" fill="#5069b0"/><rect x="1430" y="638" width="22" height="16" fill="#5871b4"/><rect x="1452" y="638" width="21" height="16" fill="#5b75b6"/><rect x="1473" y="638" width="22" height="16" fill="#5f79b8"/><rect x="1495" y="638" width="21" height="16" fill="#627db9"/><rect x="1516" y="638" width="21" height="16" fill="#647fba"/><rect x="1537" y="638" width="22" height="16" fill="#6680ba"/><rect x="1559" y="638" width="21" height="16" fill="#6882bb"/><rect x="1580" y="638" width="22" height="16" fill="#6983bb"/><rect x="1602" y="638" width="21" height="16" fill="#6b85bb"/><rect x="1623" y="638" width="21" height="16" fill="#6c86bb"/><rect x="1644" y="638" width="535" height="16" fill="#6d87bc"/><rect x="2179" y="638" width="22" height="16" fill="#6e88bc"/><rect x="2201" y="638" width="21" height="16" fill="#6f88bc"/><rect x="2222" y="638" width="22" height="16" fill="#6f89bc"/><rect x="2244" y="638" width="21" height="16" fill="#708abc"/><rect x="2265" y="638" width="21" height="16" fill="#718abc"/><rect x="2286" y="638" width="22" height="16" fill="#718bbc"/><rect x="2308" y="638" width="21" height="16" fill="#728bbc"/><rect x="2329" y="638" width="22" height="16" fill="#738cbc"/><rect x="2351" y="638" width="21" height="16" fill="#748cbc"/><rect x="2372" y="638" width="21" height="16" fill="#748dbd"/><rect x="2393" y="638" width="22" height="16" fill="#758ebd"/><rect x="2415" y="638" width="21" height="16" fill="#768ebd"/><rect x="2436" y="638" width="22" height="16" fill="#768fbd"/><rect x="2458" y="638" width="21" height="16" fill="#778fbd"/><rect x="2479" y="638" width="42" height="16" fill="#7890bd"/><rect x="2521" y="638" width="21" height="16" fill="#7991bd"/><rect x="2542" y="638" width="18" height="16" fill="#7a91bd"/><rect x="2560" y="638" width="18" height="16" fill="#7a92bd"/><rect x="2578" y="638" width="17" height="16" fill="#7b92bd"/><rect x="2595" y="638" width="12" height="16" fill="#7b93bd"/>
<polygon points="467.1,656.2 484.5,655.5 484.5,669.7 467.1,670.1" fill="#324194" stroke="#324194" stroke-width="1.2" shape-rendering="auto"/>
<polygon points="484.5,655.5 504.6,655.0 504.6,669.5 484.5,669.7" fill="#324193" stroke="#324193" stroke-width="1.2" shape-rendering="auto"/>
<polygon points="504.6,655.0 527.3,654.6 527.3,669.3 504.6,669.5" fill="#314093" stroke="#314093" stroke-width="1.2" shape-rendering="auto"/>
<polygon points="527.3,654.6 550.1,654.5 550.1,669.2 527.3,669.3" fill="#313f92" stroke="#313f92" stroke-width="1.2" shape-rendering="auto"/>
<polygon points="550.1,654.5 572.8,654.3 572.8,669.2 550.1,669.2" fill="#303e91" stroke="#303e91" stroke-width="1.2" shape-rendering="auto"/>
<rect x="573" y="654" width="22" height="15" fill="#2f3d90"/><rect x="595" y="654" width="22" height="15" fill="#2f3c90"/><rect x="617" y="654" width="22" height="15" fill="#2e3b8f"/><rect x="639" y="654" width="21" height="15" fill="#2e3b8e"/><rect x="660" y="654" width="21" height="15" fill="#2e3c8f"/><rect x="681" y="654" width="22" height="15" fill="#2f3d90"/><rect x="703" y="654" width="21" height="15" fill="#303e91"/><rect x="724" y="654" width="22" height="15" fill="#37489a"/><rect x="746" y="654" width="21" height="15" fill="#3e52a1"/><rect x="767" y="654" width="21" height="15" fill="#465ca8"/><rect x="788" y="654" width="22" height="15" fill="#5770b4"/><rect x="810" y="654" width="21" height="15" fill="#6882bb"/><rect x="831" y="654" width="22" height="15" fill="#7089bc"/><rect x="853" y="654" width="21" height="15" fill="#778fbd"/><rect x="874" y="654" width="21" height="15" fill="#7e95bc"/><rect x="895" y="654" width="22" height="15" fill="#869abb"/><rect x="917" y="654" width="21" height="15" fill="#90a0b8"/><rect x="938" y="654" width="107" height="15" fill="#9aa5b3"/><rect x="1045" y="654" width="22" height="15" fill="#95a3b5"/><rect x="1067" y="654" width="21" height="15" fill="#90a0b8"/><rect x="1088" y="654" width="21" height="15" fill="#879bbb"/><rect x="1109" y="654" width="22" height="15" fill="#7e95bc"/><rect x="1131" y="654" width="21" height="15" fill="#738cbc"/><rect x="1152" y="654" width="22" height="15" fill="#6882bb"/><rect x="1174" y="654" width="21" height="15" fill="#5e79b7"/><rect x="1195" y="654" width="21" height="15" fill="#556fb3"/><rect x="1216" y="654" width="22" height="15" fill="#4d65ae"/><rect x="1238" y="654" width="21" height="15" fill="#465ca8"/><rect x="1259" y="654" width="22" height="15" fill="#4155a4"/><rect x="1281" y="654" width="21" height="15" fill="#3c4f9f"/><rect x="1302" y="654" width="21" height="15" fill="#3b4d9d"/><rect x="1323" y="654" width="22" height="15" fill="#394c9c"/><rect x="1345" y="654" width="21" height="15" fill="#374899"/><rect x="1366" y="654" width="22" height="15" fill="#354597"/><rect x="1388" y="654" width="21" height="15" fill="#394b9c"/><rect x="1409" y="654" width="21" height="15" fill="#3e52a1"/><rect x="1430" y="654" width="22" height="15" fill="#4257a5"/><rect x="1452" y="654" width="21" height="15" fill="#465ca8"/><rect x="1473" y="654" width="22" height="15" fill="#4961ab"/><rect x="1495" y="654" width="21" height="15" fill="#4d65ae"/><rect x="1516" y="654" width="21" height="15" fill="#4f68af"/><rect x="1537" y="654" width="22" height="15" fill="#516ab0"/><rect x="1559" y="654" width="21" height="15" fill="#526cb1"/><rect x="1580" y="654" width="22" height="15" fill="#546eb3"/><rect x="1602" y="654" width="21" height="15" fill="#5670b4"/><rect x="1623" y="654" width="21" height="15" fill="#5872b5"/><rect x="1644" y="654" width="22" height="15" fill="#5a74b6"/><rect x="1666" y="654" width="21" height="15" fill="#5973b5"/><rect x="1687" y="654" width="22" height="15" fill="#5872b5"/><rect x="1709" y="654" width="21" height="15" fill="#5771b4"/><rect x="1730" y="654" width="21" height="15" fill="#5670b3"/><rect x="1751" y="654" width="22" height="15" fill="#556fb3"/><rect x="1773" y="654" width="64" height="15" fill="#556eb3"/><rect x="1837" y="654" width="43" height="15" fill="#546eb3"/><rect x="1880" y="654" width="43" height="15" fill="#546eb2"/><rect x="1923" y="654" width="85" height="15" fill="#546db2"/><rect x="2008" y="654" width="43" height="15" fill="#536db2"/><rect x="2051" y="654" width="86" height="15" fill="#536cb2"/><rect x="2137" y="654" width="21" height="15" fill="#536cb1"/><rect x="2158" y="654" width="21" height="15" fill="#526cb1"/><rect x="2179" y="654" width="22" height="15" fill="#536db2"/><rect x="2201" y="654" width="21" height="15" fill="#546eb2"/><rect x="2222" y="654" width="22" height="15" fill="#556fb3"/><rect x="2244" y="654" width="21" height="15" fill="#5670b3"/><rect x="2265" y="654" width="21" height="15" fill="#5771b4"/><rect x="2286" y="654" width="22" height="15" fill="#5872b4"/><rect x="2308" y="654" width="21" height="15" fill="#5973b5"/><rect x="2329" y="654" width="22" height="15" fill="#5a74b5"/><rect x="2351" y="654" width="21" height="15" fill="#5b75b6"/><rect x="2372" y="654" width="21" height="15" fill="#5c76b6"/><rect x="2393" y="654" width="22" height="15" fill="#5d77b7"/><rect x="2415" y="654" width="21" height="15" fill="#5e78b7"/><rect x="2436" y="654" width="22" height="15" fill="#5f79b7"/><rect x="2458" y="654" width="21" height="15" fill="#5f7ab8"/><rect x="2479" y="654" width="21" height="15" fill="#607bb8"/><rect x="2500" y="654" width="21" height="15" fill="#617cb9"/><rect x="2521" y="654" width="21" height="15" fill="#627db9"/><rect x="2542" y="654" width="18" height="15" fill="#637db9"/><rect x="2560" y="654" width="18" height="15" fill="#647eb9"/><rect x="2578" y="654" width="17" height="15" fill="#657fba"/><rect x="2595" y="654" width="12" height="15" fill="#6580ba"/>
<polygon points="467.1,670.1 484.5,669.7 484.5,682.6 467.1,682.6" fill="#354597" stroke="#354597" stroke-width="1.2" shape-rendering="auto"/>
<polygon points="484.5,669.7 504.6,669.5 504.6,682.6 484.5,682.6" fill="#354597" stroke="#354597" stroke-width="1.2" shape-rendering="auto"/>
<polygon points="504.6,669.5 527.3,669.3 527.3,682.6 504.6,682.6" fill="#354597" stroke="#354597" stroke-width="1.2" shape-rendering="auto"/>
<rect x="527" y="669" width="176" height="14" fill="#354597"/><rect x="703" y="669" width="21" height="14" fill="#324194"/><rect x="724" y="669" width="22" height="14" fill="#303e91"/><rect x="746" y="669" width="64" height="14" fill="#2e3b8e"/><rect x="810" y="669" width="21" height="14" fill="#37489a"/><rect x="831" y="669" width="22" height="14" fill="#4156a4"/><rect x="853" y="669" width="21" height="14" fill="#4b62ac"/><rect x="874" y="669" width="21" height="14" fill="#546db2"/><rect x="895" y="669" width="22" height="14" fill="#5d77b7"/><rect x="917" y="669" width="21" height="14" fill="#6882bb"/><rect x="938" y="669" width="22" height="14" fill="#738cbc"/><rect x="960" y="669" width="21" height="14" fill="#7b93bd"/><rect x="981" y="669" width="21" height="14" fill="#8398bc"/><rect x="1002" y="669" width="22" height="14" fill="#8399bc"/><rect x="1024" y="669" width="43" height="14" fill="#8499bb"/><rect x="1067" y="669" width="21" height="14" fill="#8599bb"/><rect x="1088" y="669" width="43" height="14" fill="#859abb"/><rect x="1131" y="669" width="21" height="14" fill="#869abb"/><rect x="1152" y="669" width="22" height="14" fill="#8097bc"/><rect x="1174" y="669" width="21" height="14" fill="#7b93bd"/><rect x="1195" y="669" width="21" height="14" fill="#718bbc"/><rect x="1216" y="669" width="22" height="14" fill="#6882bb"/><rect x="1238" y="669" width="21" height="14" fill="#5e79b7"/><rect x="1259" y="669" width="22" height="14" fill="#556fb3"/><rect x="1281" y="669" width="21" height="14" fill="#4f67af"/><rect x="1302" y="669" width="21" height="14" fill="#485faa"/><rect x="1323" y="669" width="22" height="14" fill="#4359a6"/><rect x="1345" y="669" width="21" height="14" fill="#3e52a1"/><rect x="1366" y="669" width="22" height="14" fill="#37489a"/><rect x="1388" y="669" width="21" height="14" fill="#303e91"/><rect x="1409" y="669" width="21" height="14" fill="#314092"/><rect x="1430" y="669" width="22" height="14" fill="#324194"/><rect x="1452" y="669" width="21" height="14" fill="#354597"/><rect x="1473" y="669" width="22" height="14" fill="#374899"/><rect x="1495" y="669" width="21" height="14" fill="#394b9c"/><rect x="1516" y="669" width="21" height="14" fill="#3c4f9f"/><rect x="1537" y="669" width="22" height="14" fill="#3e52a1"/><rect x="1559" y="669" width="21" height="14" fill="#3e53a1"/><rect x="1580" y="669" width="43" height="14" fill="#3f53a2"/><rect x="1623" y="669" width="43" height="14" fill="#3f54a2"/><rect x="1666" y="669" width="21" height="14" fill="#4054a3"/><rect x="1687" y="669" width="43" height="14" fill="#4055a3"/><rect x="1730" y="669" width="21" height="14" fill="#4155a4"/><rect x="1751" y="669" width="43" height="14" fill="#394c9c"/><rect x="1794" y="669" width="22" height="14" fill="#3a4c9c"/><rect x="1816" y="669" width="64" height="14" fill="#3a4c9d"/><rect x="1880" y="669" width="85" height="14" fill="#3a4d9d"/><rect x="1965" y="669" width="22" height="14" fill="#3b4d9d"/><rect x="1987" y="669" width="21" height="14" fill="#3b4d9e"/><rect x="2008" y="669" width="129" height="14" fill="#3b4e9e"/><rect x="2137" y="669" width="21" height="14" fill="#3c4f9e"/><rect x="2158" y="669" width="107" height="14" fill="#3c4f9f"/><rect x="2265" y="669" width="43" height="14" fill="#3c509f"/><rect x="2308" y="669" width="85" height="14" fill="#3d50a0"/><rect x="2393" y="669" width="86" height="14" fill="#3d51a0"/><rect x="2479" y="669" width="42" height="14" fill="#3e51a1"/><rect x="2521" y="669" width="86" height="14" fill="#3e52a1"/>
</g>
<g shape-rendering="crispEdges">
<rect x="884" y="1045" width="4" height="31" fill="#3c4dc1"/>
<rect x="888" y="1045" width="4" height="31" fill="#3d4fc2"/>
<rect x="892" y="1045" width="5" height="31" fill="#3e50c4"/>
<rect x="897" y="1045" width="4" height="31" fill="#3f52c5"/>
<rect x="901" y="1045" width="4" height="31" fill="#4054c7"/>
<rect x="905" y="1045" width="4" height="31" fill="#4156c8"/>
<rect x="909" y="1045" width="4" height="31" fill="#4357ca"/>
<rect x="913" y="1045" width="5" height="31" fill="#4459cb"/>
<rect x="918" y="1045" width="4" height="31" fill="#455bcd"/>
<rect x="922" y="1045" width="4" height="31" fill="#465cce"/>
<rect x="926" y="1045" width="4" height="31" fill="#475ed0"/>
<rect x="930" y="1045" width="4" height="31" fill="#4860d1"/>
<rect x="934" y="1045" width="5" height="31" fill="#4a62d3"/>
<rect x="939" y="1045" width="4" height="31" fill="#4b63d4"/>
<rect x="943" y="1045" width="4" height="31" fill="#4c65d5"/>
<rect x="947" y="1045" width="4" height="31" fill="#4d67d7"/>
<rect x="951" y="1045" width="4" height="31" fill="#4e68d8"/>
<rect x="955" y="1045" width="5" height="31" fill="#506ad9"/>
<rect x="960" y="1045" width="4" height="31" fill="#516cdb"/>
<rect x="964" y="1045" width="4" height="31" fill="#526ddc"/>
<rect x="968" y="1045" width="4" height="31" fill="#536fdd"/>
<rect x="972" y="1045" width="4" height="31" fill="#5571de"/>
<rect x="976" y="1045" width="5" height="31" fill="#5672df"/>
<rect x="981" y="1045" width="4" height="31" fill="#5774e1"/>
<rect x="985" y="1045" width="4" height="31" fill="#5876e2"/>
<rect x="989" y="1045" width="4" height="31" fill="#5a77e3"/>
<rect x="993" y="1045" width="4" height="31" fill="#5b79e4"/>
<rect x="997" y="1045" width="5" height="31" fill="#5c7be5"/>
<rect x="1002" y="1045" width="4" height="31" fill="#5d7ce6"/>
<rect x="1006" y="1045" width="4" height="31" fill="#5f7ee7"/>
<rect x="1010" y="1045" width="4" height="31" fill="#607fe8"/>
<rect x="1014" y="1045" width="4" height="31" fill="#6181e9"/>
<rect x="1018" y="1045" width="5" height="31" fill="#6383ea"/>
<rect x="1023" y="1045" width="4" height="31" fill="#6484eb"/>
<rect x="1027" y="1045" width="4" height="31" fill="#6586ec"/>
<rect x="1031" y="1045" width="4" height="31" fill="#6787ed"/>
<rect x="1035" y="1045" width="5" height="31" fill="#6889ee"/>
<rect x="1040" y="1045" width="4" height="31" fill="#698aef"/>
<rect x="1044" y="1045" width="4" height="31" fill="#6a8cf0"/>
<rect x="1048" y="1045" width="4" height="31" fill="#6c8df1"/>
<rect x="1052" y="1045" width="4" height="31" fill="#6d8ff1"/>
<rect x="1056" y="1045" width="5" height="31" fill="#6e90f2"/>
<rect x="1061" y="1045" width="4" height="31" fill="#7092f3"/>
<rect x="1065" y="1045" width="4" height="31" fill="#7193f4"/>
<rect x="1069" y="1045" width="4" height="31" fill="#7295f4"/>
<rect x="1073" y="1045" width="4" height="31" fill="#7496f5"/>
<rect x="1077" y="1045" width="5" height="31" fill="#7598f6"/>
<rect x="1082" y="1045" width="4" height="31" fill="#7799f6"/>
<rect x="1086" y="1045" width="4" height="31" fill="#789bf7"/>
<rect x="1090" y="1045" width="4" height="31" fill="#799cf8"/>
<rect x="1094" y="1045" width="4" height="31" fill="#7b9ef8"/>
<rect x="1098" y="1045" width="5" height="31" fill="#7c9ff9"/>
<rect x="1103" y="1045" width="4" height="31" fill="#7da0f9"/>
<rect x="1107" y="1045" width="4" height="31" fill="#7fa2fa"/>
<rect x="1111" y="1045" width="4" height="31" fill="#80a3fa"/>
<rect x="1115" y="1045" width="4" height="31" fill="#81a4fb"/>
<rect x="1119" y="1045" width="5" height="31" fill="#83a6fb"/>
<rect x="1124" y="1045" width="4" height="31" fill="#84a7fc"/>
<rect x="1128" y="1045" width="4" height="31" fill="#86a9fc"/>
<rect x="1132" y="1045" width="4" height="31" fill="#87aafc"/>
<rect x="1136" y="1045" width="4" height="31" fill="#88abfd"/>
<rect x="1140" y="1045" width="5" height="31" fill="#8aacfd"/>
<rect x="1145" y="1045" width="4" height="31" fill="#8baefd"/>
<rect x="1149" y="1045" width="4" height="31" fill="#8caffe"/>
<rect x="1153" y="1045" width="4" height="31" fill="#8eb0fe"/>
<rect x="1157" y="1045" width="4" height="31" fill="#8fb1fe"/>
<rect x="1161" y="1045" width="5" height="31" fill="#91b3fe"/>
<rect x="1166" y="1045" width="4" height="31" fill="#92b4fe"/>
<rect x="1170" y="1045" width="4" height="31" fill="#93b5ff"/>
<rect x="1174" y="1045" width="4" height="31" fill="#95b6ff"/>
<rect x="1178" y="1045" width="4" height="31" fill="#96b7ff"/>
<rect x="1182" y="1045" width="5" height="31" fill="#97b8ff"/>
<rect x="1187" y="1045" width="4" height="31" fill="#99baff"/>
<rect x="1191" y="1045" width="4" height="31" fill="#9abbff"/>
<rect x="1195" y="1045" width="4" height="31" fill="#9cbcff"/>
<rect x="1199" y="1045" width="4" height="31" fill="#9dbdff"/>
<rect x="1203" y="1045" width="5" height="31" fill="#9ebeff"/>
<rect x="1208" y="1045" width="4" height="31" fill="#a0bfff"/>
<rect x="1212" y="1045" width="4" height="31" fill="#a1c0ff"/>
<rect x="1216" y="1045" width="4" height="31" fill="#a2c1fe"/>
<rect x="1220" y="1045" width="4" height="31" fill="#a4c2fe"/>
<rect x="1224" y="1045" width="5" height="31" fill="#a5c3fe"/>
<rect x="1229" y="1045" width="4" height="31" fill="#a6c4fe"/>
<rect x="1233" y="1045" width="4" height="31" fill="#a8c5fe"/>
<rect x="1237" y="1045" width="4" height="31" fill="#a9c6fd"/>
<rect x="1241" y="1045" width="4" height="31" fill="#aac7fd"/>
<rect x="1245" y="1045" width="5" height="31" fill="#acc8fd"/>
<rect x="1250" y="1045" width="4" height="31" fill="#adc9fd"/>
<rect x="1254" y="1045" width="4" height="31" fill="#aec9fc"/>
<rect x="1258" y="1045" width="4" height="31" fill="#b0cafc"/>
<rect x="1262" y="1045" width="4" height="31" fill="#b1cbfc"/>
<rect x="1266" y="1045" width="5" height="31" fill="#b2ccfb"/>
<rect x="1271" y="1045" width="4" height="31" fill="#b4cdfb"/>
<rect x="1275" y="1045" width="4" height="31" fill="#b5cefa"/>
<rect x="1279" y="1045" width="4" height="31" fill="#b6cefa"/>
<rect x="1283" y="1045" width="4" height="31" fill="#b8cff9"/>
<rect x="1287" y="1045" width="5" height="31" fill="#b9d0f9"/>
<rect x="1292" y="1045" width="4" height="31" fill="#bad1f8"/>
<rect x="1296" y="1045" width="4" height="31" fill="#bbd1f8"/>
<rect x="1300" y="1045" width="4" height="31" fill="#bdd2f7"/>
<rect x="1304" y="1045" width="5" height="31" fill="#bed3f6"/>
<rect x="1309" y="1045" width="4" height="31" fill="#bfd3f6"/>
<rect x="1313" y="1045" width="4" height="31" fill="#c0d4f5"/>
<rect x="1317" y="1045" width="4" height="31" fill="#c2d4f4"/>
<rect x="1321" y="1045" width="4" height="31" fill="#c3d5f4"/>
<rect x="1325" y="1045" width="5" height="31" fill="#c4d5f3"/>
<rect x="1330" y="1045" width="4" height="31" fill="#c5d6f2"/>
<rect x="1334" y="1045" width="4" height="31" fill="#c6d7f1"/>
<rect x="1338" y="1045" width="4" height="31" fill="#c8d7f0"/>
<rect x="1342" y="1045" width="4" height="31" fill="#c9d7f0"/>
<rect x="1346" y="1045" width="5" height="31" fill="#cad8ef"/>
<rect x="1351" y="1045" width="4" height="31" fill="#cbd8ee"/>
<rect x="1355" y="1045" width="4" height="31" fill="#ccd9ed"/>
<rect x="1359" y="1045" width="4" height="31" fill="#cdd9ec"/>
<rect x="1363" y="1045" width="4" height="31" fill="#cedaeb"/>
<rect x="1367" y="1045" width="5" height="31" fill="#d0daea"/>
<rect x="1372" y="1045" width="4" height="31" fill="#d1dae9"/>
<rect x="1376" y="1045" width="4" height="31" fill="#d2dbe8"/>
<rect x="1380" y="1045" width="4" height="31" fill="#d3dbe7"/>
<rect x="1384" y="1045" width="4" height="31" fill="#d4dbe6"/>
<rect x="1388" y="1045" width="5" height="31" fill="#d5dbe5"/>
<rect x="1393" y="1045" width="4" height="31" fill="#d6dce4"/>
<rect x="1397" y="1045" width="4" height="31" fill="#d7dce3"/>
<rect x="1401" y="1045" width="4" height="31" fill="#d8dce2"/>
<rect x="1405" y="1045" width="4" height="31" fill="#d9dce1"/>
<rect x="1409" y="1045" width="5" height="31" fill="#dadce0"/>
<rect x="1414" y="1045" width="4" height="31" fill="#dbdcde"/>
<rect x="1418" y="1045" width="4" height="31" fill="#dcdddd"/>
<rect x="1422" y="1045" width="4" height="31" fill="#dddcdc"/>
<rect x="1426" y="1045" width="4" height="31" fill="#dedcda"/>
<rect x="1430" y="1045" width="5" height="31" fill="#dfdbd9"/>
<rect x="1435" y="1045" width="4" height="31" fill="#e0dbd8"/>
<rect x="1439" y="1045" width="4" height="31" fill="#e1dad6"/>
<rect x="1443" y="1045" width="4" height="31" fill="#e2dad5"/>
<rect x="1447" y="1045" width="4" height="31" fill="#e3d9d3"/>
<rect x="1451" y="1045" width="5" height="31" fill="#e4d9d2"/>
<rect x="1456" y="1045" width="4" height="31" fill="#e5d8d1"/>
<rect x="1460" y="1045" width="4" height="31" fill="#e6d7cf"/>
<rect x="1464" y="1045" width="4" height="31" fill="#e7d7ce"/>
<rect x="1468" y="1045" width="4" height="31" fill="#e8d6cc"/>
<rect x="1472" y="1045" width="5" height="31" fill="#e9d5cb"/>
<rect x="1477" y="1045" width="4" height="31" fill="#ead5c9"/>
<rect x="1481" y="1045" width="4" height="31" fill="#ead4c8"/>
<rect x="1485" y="1045" width="4" height="31" fill="#ebd3c6"/>
<rect x="1489" y="1045" width="4" height="31" fill="#ecd3c5"/>
<rect x="1493" y="1045" width="5" height="31" fill="#edd2c3"/>
<rect x="1498" y="1045" width="4" height="31" fill="#edd1c2"/>
<rect x="1502" y="1045" width="4" height="31" fill="#eed0c0"/>
<rect x="1506" y="1045" width="4" height="31" fill="#efcfbf"/>
<rect x="1510" y="1045" width="4" height="31" fill="#efcebd"/>
<rect x="1514" y="1045" width="5" height="31" fill="#f0cebc"/>
<rect x="1519" y="1045" width="4" height="31" fill="#f1cdba"/>
<rect x="1523" y="1045" width="4" height="31" fill="#f1ccb9"/>
<rect x="1527" y="1045" width="4" height="31" fill="#f2cbb7"/>
<rect x="1531" y="1045" width="4" height="31" fill="#f2cab5"/>
<rect x="1535" y="1045" width="5" height="31" fill="#f3c9b4"/>
<rect x="1540" y="1045" width="4" height="31" fill="#f3c8b2"/>
<rect x="1544" y="1045" width="4" height="31" fill="#f4c7b1"/>
<rect x="1548" y="1045" width="4" height="31" fill="#f4c6af"/>
<rect x="1552" y="1045" width="4" height="31" fill="#f4c5ae"/>
<rect x="1556" y="1045" width="5" height="31" fill="#f5c4ac"/>
<rect x="1561" y="1045" width="4" height="31" fill="#f5c3ab"/>
<rect x="1565" y="1045" width="4" height="31" fill="#f5c2a9"/>
<rect x="1569" y="1045" width="4" height="31" fill="#f6c0a7"/>
<rect x="1573" y="1045" width="5" height="31" fill="#f6bfa6"/>
<rect x="1578" y="1045" width="4" height="31" fill="#f6bea4"/>
<rect x="1582" y="1045" width="4" height="31" fill="#f6bda3"/>
<rect x="1586" y="1045" width="4" height="31" fill="#f7bca1"/>
<rect x="1590" y="1045" width="4" height="31" fill="#f7bba0"/>
<rect x="1594" y="1045" width="5" height="31" fill="#f7b99e"/>
<rect x="1599" y="1045" width="4" height="31" fill="#f7b89c"/>
<rect x="1603" y="1045" width="4" height="31" fill="#f7b79b"/>
<rect x="1607" y="1045" width="4" height="31" fill="#f7b699"/>
<rect x="1611" y="1045" width="4" height="31" fill="#f7b498"/>
<rect x="1615" y="1045" width="5" height="31" fill="#f7b396"/>
<rect x="1620" y="1045" width="4" height="31" fill="#f7b295"/>
<rect x="1624" y="1045" width="4" height="31" fill="#f7b093"/>
<rect x="1628" y="1045" width="4" height="31" fill="#f7af91"/>
<rect x="1632" y="1045" width="4" height="31" fill="#f7ae90"/>
<rect x="1636" y="1045" width="5" height="31" fill="#f7ac8e"/>
<rect x="1641" y="1045" width="4" height="31" fill="#f7ab8d"/>
<rect x="1645" y="1045" width="4" height="31" fill="#f7a98b"/>
<rect x="1649" y="1045" width="4" height="31" fill="#f7a88a"/>
<rect x="1653" y="1045" width="4" height="31" fill="#f7a788"/>
<rect x="1657" y="1045" width="5" height="31" fill="#f7a586"/>
<rect x="1662" y="1045" width="4" height="31" fill="#f6a485"/>
<rect x="1666" y="1045" width="4" height="31" fill="#f6a283"/>
<rect x="1670" y="1045" width="4" height="31" fill="#f6a182"/>
<rect x="1674" y="1045" width="4" height="31" fill="#f69f80"/>
<rect x="1678" y="1045" width="5" height="31" fill="#f59e7f"/>
<rect x="1683" y="1045" width="4" height="31" fill="#f59c7d"/>
<rect x="1687" y="1045" width="4" height="31" fill="#f59b7c"/>
<rect x="1691" y="1045" width="4" height="31" fill="#f4997a"/>
<rect x="1695" y="1045" width="4" height="31" fill="#f49779"/>
<rect x="1699" y="1045" width="5" height="31" fill="#f39677"/>
<rect x="1704" y="1045" width="4" height="31" fill="#f39475"/>
<rect x="1708" y="1045" width="4" height="31" fill="#f29374"/>
<rect x="1712" y="1045" width="4" height="31" fill="#f29172"/>
<rect x="1716" y="1045" width="4" height="31" fill="#f28f71"/>
<rect x="1720" y="1045" width="5" height="31" fill="#f18e6f"/>
<rect x="1725" y="1045" width="4" height="31" fill="#f08c6e"/>
<rect x="1729" y="1045" width="4" height="31" fill="#f08a6c"/>
<rect x="1733" y="1045" width="4" height="31" fill="#ef886b"/>
<rect x="1737" y="1045" width="4" height="31" fill="#ef8769"/>
<rect x="1741" y="1045" width="5" height="31" fill="#ee8568"/>
<rect x="1746" y="1045" width="4" height="31" fill="#ed8367"/>
<rect x="1750" y="1045" width="4" height="31" fill="#ed8265"/>
<rect x="1754" y="1045" width="4" height="31" fill="#ec8064"/>
<rect x="1758" y="1045" width="4" height="31" fill="#eb7e62"/>
<rect x="1762" y="1045" width="5" height="31" fill="#eb7c61"/>
<rect x="1767" y="1045" width="4" height="31" fill="#ea7a5f"/>
<rect x="1771" y="1045" width="4" height="31" fill="#e9795e"/>
<rect x="1775" y="1045" width="4" height="31" fill="#e8775c"/>
<rect x="1779" y="1045" width="4" height="31" fill="#e7755b"/>
<rect x="1783" y="1045" width="5" height="31" fill="#e7735a"/>
<rect x="1788" y="1045" width="4" height="31" fill="#e67158"/>
<rect x="1792" y="1045" width="4" height="31" fill="#e56f57"/>
<rect x="1796" y="1045" width="4" height="31" fill="#e46d55"/>
<rect x="1800" y="1045" width="4" height="31" fill="#e36b54"/>
<rect x="1804" y="1045" width="5" height="31" fill="#e26953"/>
<rect x="1809" y="1045" width="4" height="31" fill="#e16751"/>
<rect x="1813" y="1045" width="4" height="31" fill="#e06550"/>
<rect x="1817" y="1045" width="4" height="31" fill="#df644e"/>
<rect x="1821" y="1045" width="4" height="31" fill="#de624d"/>
<rect x="1825" y="1045" width="5" height="31" fill="#dd604c"/>
<rect x="1830" y="1045" width="4" height="31" fill="#dc5d4a"/>
<rect x="1834" y="1045" width="4" height="31" fill="#db5b49"/>
<rect x="1838" y="1045" width="4" height="31" fill="#da5948"/>
<rect x="1842" y="1045" width="5" height="31" fill="#d95746"/>
<rect x="1847" y="1045" width="4" height="31" fill="#d85545"/>
<rect x="1851" y="1045" width="4" height="31" fill="#d75344"/>
<rect x="1855" y="1045" width="4" height="31" fill="#d55143"/>
<rect x="1859" y="1045" width="4" height="31" fill="#d44f41"/>
<rect x="1863" y="1045" width="5" height="31" fill="#d34d40"/>
<rect x="1868" y="1045" width="4" height="31" fill="#d24a3f"/>
<rect x="1872" y="1045" width="4" height="31" fill="#d1483e"/>
<rect x="1876" y="1045" width="4" height="31" fill="#cf463c"/>
<rect x="1880" y="1045" width="4" height="31" fill="#ce433b"/>
<rect x="1884" y="1045" width="5" height="31" fill="#cd413a"/>
<rect x="1889" y="1045" width="4" height="31" fill="#cc3f39"/>
<rect x="1893" y="1045" width="4" height="31" fill="#ca3c37"/>
<rect x="1897" y="1045" width="4" height="31" fill="#c93a36"/>
<rect x="1901" y="1045" width="4" height="31" fill="#c83735"/>
<rect x="1905" y="1045" width="5" height="31" fill="#c63534"/>
<rect x="1910" y="1045" width="4" height="31" fill="#c53233"/>
<rect x="1914" y="1045" width="4" height="31" fill="#c42f32"/>
<rect x="1918" y="1045" width="4" height="31" fill="#c22d30"/>
<rect x="1922" y="1045" width="4" height="31" fill="#c12a2f"/>
<rect x="1926" y="1045" width="5" height="31" fill="#bf272e"/>
<rect x="1931" y="1045" width="4" height="31" fill="#be232d"/>
<rect x="1935" y="1045" width="4" height="31" fill="#bc202c"/>
<rect x="1939" y="1045" width="4" height="31" fill="#bb1c2b"/>
<rect x="1943" y="1045" width="4" height="31" fill="#b9182a"/>
<rect x="1947" y="1045" width="5" height="31" fill="#b81429"/>
<rect x="1952" y="1045" width="4" height="31" fill="#b60e28"/>
<rect x="1956" y="1045" width="4" height="31" fill="#b50827"/>
<rect x="882.9" y="1026" width="1.3" height="29" fill="#fff" shape-rendering="auto"/>
<rect x="1062.4" y="1026" width="1.3" height="29" fill="#fff" shape-rendering="auto"/>
<rect x="1241.8" y="1026" width="1.3" height="29" fill="#fff" shape-rendering="auto"/>
<rect x="1421.2" y="1026" width="1.3" height="29" fill="#fff" shape-rendering="auto"/>
<rect x="1600.7" y="1026" width="1.3" height="29" fill="#fff" shape-rendering="auto"/>
<rect x="1780.2" y="1026" width="1.3" height="29" fill="#fff" shape-rendering="auto"/>
<rect x="1959.6" y="1026" width="1.3" height="29" fill="#fff" shape-rendering="auto"/>
</g>
<line x1="167.6" y1="946" x2="167.6" y2="1020" stroke="#d8d800" stroke-width="1.5"/>
<polygon points="167.9,926.5 160.3,945.5 175.7,945.5" fill="#e6e600"/>
<ellipse cx="167.9" cy="945.6" rx="7.7" ry="1.6" fill="#8a8a00"/>
<line x1="192" y1="1028.5" x2="250" y2="1028.5" stroke="#d40000" stroke-width="1.5"/>
<polygon points="269.5,1028.2 250,1020.2 250,1036" fill="#e00000"/>
<ellipse cx="250.3" cy="1028.2" rx="1.6" ry="7.9" fill="#7a0000"/>
<circle cx="167.9" cy="1027.8" r="8.9" fill="#006400"/>
<text x="171.5" y="947.3" font-family="Liberation Sans, DejaVu Sans, sans-serif" font-size="31" fill="#fff" textLength="19" lengthAdjust="spacingAndGlyphs">Y</text>
<text x="173.4" y="1029.6" font-family="Liberation Sans, DejaVu Sans, sans-serif" font-size="35" fill="#fff" textLength="19.6" lengthAdjust="spacingAndGlyphs">Z</text>
<text x="254.7" y="1029" font-family="Liberation Sans, DejaVu Sans, sans-serif" font-size="31" fill="#fff" textLength="18.3" lengthAdjust="spacingAndGlyphs">X</text>
<text x="33.2" y="80.2" font-family="Liberation Sans, DejaVu Sans, sans-serif" font-weight="bold" font-size="47.6" fill="#fff" stroke="#52576e" stroke-width="1.0" textLength="561" lengthAdjust="spacingAndGlyphs">Backward-Step Simulation</text>
<text x="35.4" y="159" font-family="Liberation Sans, DejaVu Sans, sans-serif" font-size="43.5" fill="#fff" stroke="#52576e" stroke-width="1.2" textLength="217" lengthAdjust="spacingAndGlyphs">Time: 0.50 s</text>
<text x="1175" y="958.6" font-family="Liberation Sans, DejaVu Sans, sans-serif" font-size="43.5" fill="#fff" stroke="#52576e" stroke-width="0.6" textLength="496.5" lengthAdjust="spacingAndGlyphs">Velocity Magnitude (m/s)</text>
<text x="839.2" y="1009.1" font-family="Liberation Sans, DejaVu Sans, sans-serif" font-size="45.8" fill="#fff" stroke="#52576e" stroke-width="0.4" textLength="57.8" lengthAdjust="spacingAndGlyphs">0.0</text>
<text x="1018.1" y="1009.1" font-family="Liberation Sans, DejaVu Sans, sans-serif" font-size="45.8" fill="#fff" stroke="#52576e" stroke-width="0.4" textLength="57.3" lengthAdjust="spacingAndGlyphs">0.2</text>
<text x="1197.1" y="1009.1" font-family="Liberation Sans, DejaVu Sans, sans-serif" font-size="45.8" fill="#fff" stroke="#52576e" stroke-width="0.4" textLength="57.9" lengthAdjust="spacingAndGlyphs">0.4</text>
<text x="1377.6" y="1009.1" font-family="Liberation Sans, DejaVu Sans, sans-serif" font-size="45.8" fill="#fff" stroke="#52576e" stroke-width="0.4" textLength="57.8" lengthAdjust="spacingAndGlyphs">0.6</text>
<text x="1556.1" y="1009.1" font-family="Liberation Sans, DejaVu Sans, sans-serif" font-size="45.8" fill="#fff" stroke="#52576e" stroke-width="0.4" textLength="57.5" lengthAdjust="spacingAndGlyphs">0.8</text>
<text x="1740.1" y="1009.1" font-family="Liberation Sans, DejaVu Sans, sans-serif" font-size="45.8" fill="#fff" stroke="#52576e" stroke-width="0.4" textLength="52.9" lengthAdjust="spacingAndGlyphs">1.0</text>
<text x="1919.6" y="1009.1" font-family="Liberation Sans, DejaVu Sans, sans-serif" font-size="45.8" fill="#fff" stroke="#52576e" stroke-width="0.4" textLength="52.7" lengthAdjust="spacingAndGlyphs">1.2</text>
</svg>
</body></html>
